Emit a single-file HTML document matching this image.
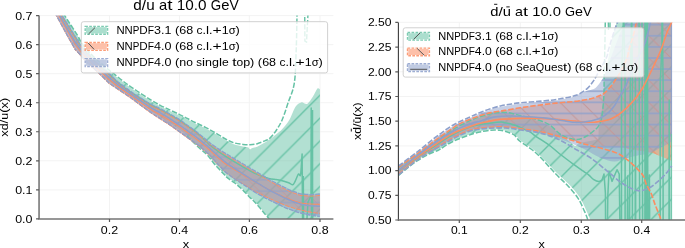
<!DOCTYPE html>
<html><head><meta charset="utf-8"><title>PDF ratio plots</title>
<style>
html,body{margin:0;padding:0;background:#fff;}
body{width:685px;height:248px;overflow:hidden;}
svg{display:block;font-family:"Liberation Sans",sans-serif;fill:#000;will-change:transform;}
</style></head><body>
<svg width="685" height="248" viewBox="0 0 685 248">
<defs>
<filter id="soft" x="0" y="0" width="100%" height="100%" filterUnits="userSpaceOnUse" primitiveUnits="userSpaceOnUse"><feGaussianBlur stdDeviation="0.3"/></filter>
<clipPath id="clipL"><rect x="39.05" y="15.60" width="296.35" height="203.30"/></clipPath>
<pattern id="hgL" patternUnits="userSpaceOnUse" x="-17.90" y="0" width="22.80" height="22.80"><path d="M-1.00 23.80 L23.80 -1.00 M-1.00 1.00 L1.00 -1.00 M21.80 23.80 L23.80 21.80" stroke="#66c2a5" stroke-width="1.35" stroke-opacity="1.00" fill="none"/></pattern>
<pattern id="hoL" patternUnits="userSpaceOnUse" x="22.60" y="0" width="22.80" height="22.80"><path d="M-1.00 -1.00 L23.80 23.80 M21.80 -1.00 L23.80 1.00 M-1.00 21.80 L1.00 23.80" stroke="#fc8d62" stroke-width="0.90" stroke-opacity="0.90" fill="none"/></pattern>
<pattern id="hbL" patternUnits="userSpaceOnUse" x="0" y="-8.30" width="40" height="11.40"><path d="M-1 5.70 L41 5.70" stroke="#8da0cb" stroke-width="1.00" stroke-opacity="0.95" fill="none"/></pattern>
<clipPath id="clipR"><rect x="398.30" y="22.40" width="287.70" height="197.60"/></clipPath>
<pattern id="hgR" patternUnits="userSpaceOnUse" x="-13.30" y="0" width="22.10" height="22.10"><path d="M-1.00 23.10 L23.10 -1.00 M-1.00 1.00 L1.00 -1.00 M21.10 23.10 L23.10 21.10" stroke="#66c2a5" stroke-width="1.35" stroke-opacity="1.00" fill="none"/></pattern>
<pattern id="hoR" patternUnits="userSpaceOnUse" x="13.60" y="0" width="22.20" height="22.20"><path d="M-1.00 -1.00 L23.20 23.20 M21.20 -1.00 L23.20 1.00 M-1.00 21.20 L1.00 23.20" stroke="#fc8d62" stroke-width="1.00" stroke-opacity="1.00" fill="none"/></pattern>
<pattern id="hbR" patternUnits="userSpaceOnUse" x="0" y="-3.10" width="40" height="11.10"><path d="M-1 5.55 L41 5.55" stroke="#8da0cb" stroke-width="1.20" stroke-opacity="1.00" fill="none"/></pattern>
</defs>
<rect x="0" y="0" width="685" height="248" fill="#fff"/>
<path d="M109.50 15.60 V218.90 M179.50 15.60 V218.90 M249.40 15.60 V218.90 M320.00 15.60 V218.90 M39.05 189.86 H333.40 M39.05 160.81 H333.40 M39.05 131.77 H333.40 M39.05 102.73 H333.40 M39.05 73.69 H333.40 M39.05 44.64 H333.40 M39.05 15.60 H333.40" stroke="#f2f2f2" stroke-width="0.9" fill="none"/>
<g clip-path="url(#clipL)"><g filter="url(#soft)">
<path d="M58.00 0.00 C59.20 2.77 62.87 12.10 65.20 16.60 C67.53 21.10 69.82 23.60 72.00 27.00 C74.18 30.40 76.42 33.83 78.30 37.00 C80.18 40.17 80.47 42.33 83.30 46.00 C86.13 49.67 91.02 54.83 95.30 59.00 C99.58 63.17 105.78 68.28 109.00 71.00 C112.22 73.72 111.97 73.22 114.60 75.30 C117.23 77.38 121.07 80.72 124.80 83.50 C128.53 86.28 132.80 89.17 137.00 92.00 C141.20 94.83 146.13 98.12 150.00 100.50 C153.87 102.88 156.80 104.52 160.20 106.30 C163.60 108.08 167.17 109.65 170.40 111.20 C173.63 112.75 176.83 114.25 179.60 115.60 C182.37 116.95 184.40 117.98 187.00 119.30 C189.60 120.62 192.13 122.00 195.20 123.50 C198.27 125.00 202.00 126.55 205.40 128.30 C208.80 130.05 212.25 132.03 215.60 134.00 C218.95 135.97 222.48 138.40 225.50 140.10 C228.52 141.80 230.80 143.15 233.70 144.20 C236.60 145.25 240.52 145.88 242.90 146.40 C245.28 146.92 246.82 146.82 248.00 147.30 C249.18 147.78 249.25 149.18 250.00 149.30 C250.75 149.42 251.30 148.43 252.50 148.00 C253.70 147.57 255.05 147.67 257.20 146.70 C259.35 145.73 263.27 143.47 265.40 142.20 C267.53 140.93 268.23 140.38 270.00 139.10 C271.77 137.82 273.95 136.18 276.00 134.50 C278.05 132.82 280.03 131.50 282.30 129.00 C284.57 126.50 287.40 123.20 289.60 119.50 C291.80 115.80 293.55 109.65 295.50 106.80 C297.45 103.95 299.35 102.88 301.30 102.40 C303.25 101.92 305.25 104.87 307.20 103.90 C309.15 102.93 311.30 99.15 313.00 96.60 C314.70 94.05 316.25 89.82 317.40 88.60 C318.55 87.38 319.48 89.18 319.90 89.30 L319.90 230.00 L272.00 230.00 L272.00 224.00 C271.53 223.00 270.35 219.77 269.20 218.00 C268.05 216.23 266.63 215.20 265.10 213.40 C263.57 211.60 261.75 209.27 260.00 207.20 C258.25 205.13 256.18 202.67 254.60 201.00 C253.02 199.33 252.53 199.23 250.50 197.20 C248.47 195.17 244.95 191.23 242.40 188.80 C239.85 186.37 237.55 184.43 235.20 182.60 C232.85 180.77 230.27 179.43 228.30 177.80 C226.33 176.17 225.62 175.13 223.40 172.80 C221.18 170.47 217.57 166.80 215.00 163.80 C212.43 160.80 210.50 157.47 208.00 154.80 C205.50 152.13 203.47 151.02 200.00 147.80 C196.53 144.58 191.77 139.30 187.20 135.50 C182.63 131.70 176.73 127.85 172.60 125.00 C168.47 122.15 165.80 120.62 162.40 118.40 C159.00 116.18 157.23 115.27 152.20 111.70 C147.17 108.13 139.12 101.87 132.20 97.00 C125.28 92.13 115.65 86.28 110.70 82.50 C105.75 78.72 106.08 77.72 102.50 74.30 C98.92 70.88 93.37 66.17 89.20 62.00 C85.03 57.83 80.72 53.63 77.50 49.30 C74.28 44.97 73.02 41.62 69.90 36.00 C66.78 30.38 62.00 21.60 58.80 15.60 C55.60 9.60 52.05 2.60 50.70 0.00 Z" fill="#66c2a5" fill-opacity="0.5"/>
<path d="M58.00 0.00 C59.20 2.77 62.87 12.10 65.20 16.60 C67.53 21.10 69.82 23.60 72.00 27.00 C74.18 30.40 76.42 33.83 78.30 37.00 C80.18 40.17 80.47 42.33 83.30 46.00 C86.13 49.67 91.02 54.83 95.30 59.00 C99.58 63.17 105.78 68.28 109.00 71.00 C112.22 73.72 111.97 73.22 114.60 75.30 C117.23 77.38 121.07 80.72 124.80 83.50 C128.53 86.28 132.80 89.17 137.00 92.00 C141.20 94.83 146.13 98.12 150.00 100.50 C153.87 102.88 156.80 104.52 160.20 106.30 C163.60 108.08 167.17 109.65 170.40 111.20 C173.63 112.75 176.83 114.25 179.60 115.60 C182.37 116.95 184.40 117.98 187.00 119.30 C189.60 120.62 192.13 122.00 195.20 123.50 C198.27 125.00 202.00 126.55 205.40 128.30 C208.80 130.05 212.25 132.03 215.60 134.00 C218.95 135.97 222.48 138.40 225.50 140.10 C228.52 141.80 230.80 143.15 233.70 144.20 C236.60 145.25 240.52 145.88 242.90 146.40 C245.28 146.92 246.82 146.82 248.00 147.30 C249.18 147.78 249.25 149.18 250.00 149.30 C250.75 149.42 251.30 148.43 252.50 148.00 C253.70 147.57 255.05 147.67 257.20 146.70 C259.35 145.73 263.27 143.47 265.40 142.20 C267.53 140.93 268.23 140.38 270.00 139.10 C271.77 137.82 273.95 136.18 276.00 134.50 C278.05 132.82 280.03 131.50 282.30 129.00 C284.57 126.50 287.40 123.20 289.60 119.50 C291.80 115.80 293.55 109.65 295.50 106.80 C297.45 103.95 299.35 102.88 301.30 102.40 C303.25 101.92 305.25 104.87 307.20 103.90 C309.15 102.93 311.30 99.15 313.00 96.60 C314.70 94.05 316.25 89.82 317.40 88.60 C318.55 87.38 319.48 89.18 319.90 89.30 L319.90 230.00 L272.00 230.00 L272.00 224.00 C271.53 223.00 270.35 219.77 269.20 218.00 C268.05 216.23 266.63 215.20 265.10 213.40 C263.57 211.60 261.75 209.27 260.00 207.20 C258.25 205.13 256.18 202.67 254.60 201.00 C253.02 199.33 252.53 199.23 250.50 197.20 C248.47 195.17 244.95 191.23 242.40 188.80 C239.85 186.37 237.55 184.43 235.20 182.60 C232.85 180.77 230.27 179.43 228.30 177.80 C226.33 176.17 225.62 175.13 223.40 172.80 C221.18 170.47 217.57 166.80 215.00 163.80 C212.43 160.80 210.50 157.47 208.00 154.80 C205.50 152.13 203.47 151.02 200.00 147.80 C196.53 144.58 191.77 139.30 187.20 135.50 C182.63 131.70 176.73 127.85 172.60 125.00 C168.47 122.15 165.80 120.62 162.40 118.40 C159.00 116.18 157.23 115.27 152.20 111.70 C147.17 108.13 139.12 101.87 132.20 97.00 C125.28 92.13 115.65 86.28 110.70 82.50 C105.75 78.72 106.08 77.72 102.50 74.30 C98.92 70.88 93.37 66.17 89.20 62.00 C85.03 57.83 80.72 53.63 77.50 49.30 C74.28 44.97 73.02 41.62 69.90 36.00 C66.78 30.38 62.00 21.60 58.80 15.60 C55.60 9.60 52.05 2.60 50.70 0.00 Z" fill="url(#hgL)"/>
<path d="M55.00 1.50 C55.27 2.07 55.38 2.32 56.60 4.92 C57.82 7.52 60.45 13.62 62.30 17.10 C64.15 20.58 65.58 22.37 67.70 25.77 C69.82 29.17 73.73 35.47 75.00 37.50 C76.27 39.53 74.30 36.39 75.30 37.97 C76.30 39.56 79.05 44.37 81.00 47.00 C82.95 49.63 85.00 51.50 87.00 53.75 C89.00 56.00 90.78 58.28 93.00 60.50 C95.22 62.72 97.72 64.74 100.30 67.07 C102.88 69.39 106.88 73.00 108.50 74.45 C110.12 75.91 108.30 74.21 110.00 75.80 C111.70 77.39 115.37 81.25 118.70 84.00 C122.03 86.75 127.62 90.55 130.00 92.30 C132.38 94.05 129.67 92.37 133.00 94.50 C136.33 96.63 145.47 102.48 150.00 105.10 C154.53 107.72 156.80 108.42 160.20 110.20 C163.60 111.98 167.17 113.98 170.40 115.80 C173.63 117.62 177.17 119.57 179.60 121.10 C182.03 122.63 182.40 123.13 185.00 125.00 C187.60 126.87 192.70 130.44 195.20 132.30 C197.70 134.16 198.30 134.79 200.00 136.16 C201.70 137.53 203.72 139.09 205.40 140.50 C207.08 141.91 209.30 143.91 210.10 144.61 C210.90 145.31 209.00 143.86 210.20 144.70 C211.40 145.54 215.60 148.46 217.30 149.64 C219.00 150.83 219.05 150.95 220.40 151.80 C221.75 152.65 223.80 153.82 225.40 154.77 C227.00 155.72 228.37 156.52 230.00 157.50 C231.63 158.48 233.50 159.63 235.20 160.66 C236.90 161.69 238.50 162.68 240.20 163.70 C241.90 164.72 243.70 165.79 245.40 166.81 C247.10 167.83 248.68 168.78 250.40 169.80 C252.12 170.82 254.00 171.92 255.70 172.92 C257.40 173.92 258.90 174.80 260.60 175.80 C262.30 176.80 264.30 178.00 265.90 178.95 C267.50 179.90 268.63 180.63 270.20 181.50 C271.77 182.37 273.60 183.27 275.30 184.15 C277.00 185.03 278.70 185.93 280.40 186.80 C282.10 187.67 283.80 188.50 285.50 189.35 C287.20 190.20 288.88 191.17 290.60 191.90 C292.32 192.63 294.08 193.12 295.80 193.72 C297.52 194.32 299.20 195.15 300.90 195.50 C302.60 195.85 304.32 195.70 306.00 195.80 C307.68 195.90 309.47 196.10 311.00 196.10 C312.53 196.10 313.72 195.92 315.20 195.82 C316.68 195.72 319.12 195.55 319.90 195.50 L319.90 213.40 C319.12 213.32 316.68 213.10 315.20 212.90 C313.72 212.70 312.53 212.47 311.00 212.22 C309.47 211.97 307.68 211.77 306.00 211.40 C304.32 211.03 302.60 210.44 300.90 210.00 C299.20 209.56 297.52 209.27 295.80 208.78 C294.08 208.30 292.32 207.65 290.60 207.09 C288.88 206.53 287.20 206.07 285.50 205.43 C283.80 204.79 282.10 203.98 280.40 203.25 C278.70 202.53 277.00 201.83 275.30 201.08 C273.60 200.32 271.77 199.46 270.20 198.75 C268.63 198.03 267.50 197.55 265.90 196.78 C264.30 196.02 262.30 195.00 260.60 194.16 C258.90 193.31 257.40 192.69 255.70 191.73 C254.00 190.77 252.12 189.48 250.40 188.41 C248.68 187.33 247.10 186.32 245.40 185.28 C243.70 184.23 241.90 183.16 240.20 182.14 C238.50 181.11 236.90 180.23 235.20 179.12 C233.50 178.01 231.63 176.62 230.00 175.47 C228.37 174.33 227.00 173.62 225.40 172.25 C223.80 170.87 221.75 168.58 220.40 167.22 C219.05 165.86 219.00 165.95 217.30 164.10 C215.60 162.25 211.40 157.46 210.20 156.11 C209.00 154.76 210.90 156.71 210.10 156.00 C209.30 155.29 207.08 153.34 205.40 151.86 C203.72 150.38 201.70 148.47 200.00 147.10 C198.30 145.73 197.70 145.43 195.20 143.61 C192.70 141.80 187.60 138.08 185.00 136.20 C182.40 134.32 182.03 134.07 179.60 132.32 C177.17 130.57 173.63 127.90 170.40 125.70 C167.17 123.50 163.60 121.32 160.20 119.10 C156.80 116.88 154.53 115.60 150.00 112.40 C145.47 109.20 136.33 102.36 133.00 99.91 C129.67 97.45 132.38 99.34 130.00 97.70 C127.62 96.06 122.03 92.33 118.70 90.08 C115.37 87.83 111.70 85.36 110.00 84.21 C108.30 83.07 110.12 84.74 108.50 83.20 C106.88 81.66 102.88 77.49 100.30 75.00 C97.72 72.51 95.22 70.30 93.00 68.25 C90.78 66.20 89.00 64.71 87.00 62.70 C85.00 60.69 82.95 58.30 81.00 56.19 C79.05 54.07 76.30 51.12 75.30 50.00 C74.30 48.88 76.27 51.69 75.00 49.48 C73.73 47.26 69.82 40.48 67.70 36.70 C65.58 32.92 64.15 30.18 62.30 26.78 C60.45 23.38 57.82 18.56 56.60 16.30 C55.38 14.04 55.27 13.73 55.00 13.22 Z" fill="#fc8d62" fill-opacity="0.5"/>
<path d="M55.00 1.50 C55.27 2.07 55.38 2.32 56.60 4.92 C57.82 7.52 60.45 13.62 62.30 17.10 C64.15 20.58 65.58 22.37 67.70 25.77 C69.82 29.17 73.73 35.47 75.00 37.50 C76.27 39.53 74.30 36.39 75.30 37.97 C76.30 39.56 79.05 44.37 81.00 47.00 C82.95 49.63 85.00 51.50 87.00 53.75 C89.00 56.00 90.78 58.28 93.00 60.50 C95.22 62.72 97.72 64.74 100.30 67.07 C102.88 69.39 106.88 73.00 108.50 74.45 C110.12 75.91 108.30 74.21 110.00 75.80 C111.70 77.39 115.37 81.25 118.70 84.00 C122.03 86.75 127.62 90.55 130.00 92.30 C132.38 94.05 129.67 92.37 133.00 94.50 C136.33 96.63 145.47 102.48 150.00 105.10 C154.53 107.72 156.80 108.42 160.20 110.20 C163.60 111.98 167.17 113.98 170.40 115.80 C173.63 117.62 177.17 119.57 179.60 121.10 C182.03 122.63 182.40 123.13 185.00 125.00 C187.60 126.87 192.70 130.44 195.20 132.30 C197.70 134.16 198.30 134.79 200.00 136.16 C201.70 137.53 203.72 139.09 205.40 140.50 C207.08 141.91 209.30 143.91 210.10 144.61 C210.90 145.31 209.00 143.86 210.20 144.70 C211.40 145.54 215.60 148.46 217.30 149.64 C219.00 150.83 219.05 150.95 220.40 151.80 C221.75 152.65 223.80 153.82 225.40 154.77 C227.00 155.72 228.37 156.52 230.00 157.50 C231.63 158.48 233.50 159.63 235.20 160.66 C236.90 161.69 238.50 162.68 240.20 163.70 C241.90 164.72 243.70 165.79 245.40 166.81 C247.10 167.83 248.68 168.78 250.40 169.80 C252.12 170.82 254.00 171.92 255.70 172.92 C257.40 173.92 258.90 174.80 260.60 175.80 C262.30 176.80 264.30 178.00 265.90 178.95 C267.50 179.90 268.63 180.63 270.20 181.50 C271.77 182.37 273.60 183.27 275.30 184.15 C277.00 185.03 278.70 185.93 280.40 186.80 C282.10 187.67 283.80 188.50 285.50 189.35 C287.20 190.20 288.88 191.17 290.60 191.90 C292.32 192.63 294.08 193.12 295.80 193.72 C297.52 194.32 299.20 195.15 300.90 195.50 C302.60 195.85 304.32 195.70 306.00 195.80 C307.68 195.90 309.47 196.10 311.00 196.10 C312.53 196.10 313.72 195.92 315.20 195.82 C316.68 195.72 319.12 195.55 319.90 195.50 L319.90 213.40 C319.12 213.32 316.68 213.10 315.20 212.90 C313.72 212.70 312.53 212.47 311.00 212.22 C309.47 211.97 307.68 211.77 306.00 211.40 C304.32 211.03 302.60 210.44 300.90 210.00 C299.20 209.56 297.52 209.27 295.80 208.78 C294.08 208.30 292.32 207.65 290.60 207.09 C288.88 206.53 287.20 206.07 285.50 205.43 C283.80 204.79 282.10 203.98 280.40 203.25 C278.70 202.53 277.00 201.83 275.30 201.08 C273.60 200.32 271.77 199.46 270.20 198.75 C268.63 198.03 267.50 197.55 265.90 196.78 C264.30 196.02 262.30 195.00 260.60 194.16 C258.90 193.31 257.40 192.69 255.70 191.73 C254.00 190.77 252.12 189.48 250.40 188.41 C248.68 187.33 247.10 186.32 245.40 185.28 C243.70 184.23 241.90 183.16 240.20 182.14 C238.50 181.11 236.90 180.23 235.20 179.12 C233.50 178.01 231.63 176.62 230.00 175.47 C228.37 174.33 227.00 173.62 225.40 172.25 C223.80 170.87 221.75 168.58 220.40 167.22 C219.05 165.86 219.00 165.95 217.30 164.10 C215.60 162.25 211.40 157.46 210.20 156.11 C209.00 154.76 210.90 156.71 210.10 156.00 C209.30 155.29 207.08 153.34 205.40 151.86 C203.72 150.38 201.70 148.47 200.00 147.10 C198.30 145.73 197.70 145.43 195.20 143.61 C192.70 141.80 187.60 138.08 185.00 136.20 C182.40 134.32 182.03 134.07 179.60 132.32 C177.17 130.57 173.63 127.90 170.40 125.70 C167.17 123.50 163.60 121.32 160.20 119.10 C156.80 116.88 154.53 115.60 150.00 112.40 C145.47 109.20 136.33 102.36 133.00 99.91 C129.67 97.45 132.38 99.34 130.00 97.70 C127.62 96.06 122.03 92.33 118.70 90.08 C115.37 87.83 111.70 85.36 110.00 84.21 C108.30 83.07 110.12 84.74 108.50 83.20 C106.88 81.66 102.88 77.49 100.30 75.00 C97.72 72.51 95.22 70.30 93.00 68.25 C90.78 66.20 89.00 64.71 87.00 62.70 C85.00 60.69 82.95 58.30 81.00 56.19 C79.05 54.07 76.30 51.12 75.30 50.00 C74.30 48.88 76.27 51.69 75.00 49.48 C73.73 47.26 69.82 40.48 67.70 36.70 C65.58 32.92 64.15 30.18 62.30 26.78 C60.45 23.38 57.82 18.56 56.60 16.30 C55.38 14.04 55.27 13.73 55.00 13.22 Z" fill="url(#hoL)"/>
<path d="M55.00 0.00 C55.27 0.57 55.38 0.82 56.60 3.42 C57.82 6.02 60.45 12.12 62.30 15.60 C64.15 19.08 65.58 20.87 67.70 24.27 C69.82 27.67 73.73 33.97 75.00 36.00 C76.27 38.03 74.30 34.89 75.30 36.47 C76.30 38.06 79.05 42.87 81.00 45.50 C82.95 48.13 85.00 50.00 87.00 52.25 C89.00 54.50 90.78 56.78 93.00 59.00 C95.22 61.22 97.72 63.24 100.30 65.57 C102.88 67.89 106.88 71.50 108.50 72.95 C110.12 74.41 108.30 72.71 110.00 74.30 C111.70 75.89 115.37 79.75 118.70 82.50 C122.03 85.25 127.62 89.05 130.00 90.80 C132.38 92.55 129.67 90.87 133.00 93.00 C136.33 95.13 145.47 100.98 150.00 103.60 C154.53 106.22 156.80 106.92 160.20 108.70 C163.60 110.48 167.17 112.48 170.40 114.30 C173.63 116.12 177.17 118.07 179.60 119.60 C182.03 121.13 182.40 121.63 185.00 123.50 C187.60 125.37 192.70 128.94 195.20 130.80 C197.70 132.66 198.30 133.29 200.00 134.66 C201.70 136.03 203.72 137.59 205.40 139.00 C207.08 140.41 209.30 142.41 210.10 143.11 C210.90 143.81 209.00 142.36 210.20 143.20 C211.40 144.04 215.60 146.96 217.30 148.14 C219.00 149.33 219.05 149.45 220.40 150.30 C221.75 151.15 223.80 152.32 225.40 153.27 C227.00 154.22 228.37 155.02 230.00 156.00 C231.63 156.98 233.50 158.13 235.20 159.16 C236.90 160.19 238.50 161.18 240.20 162.20 C241.90 163.22 243.70 164.29 245.40 165.31 C247.10 166.33 248.68 167.28 250.40 168.30 C252.12 169.32 254.00 170.42 255.70 171.42 C257.40 172.42 258.90 173.30 260.60 174.30 C262.30 175.30 264.30 176.50 265.90 177.45 C267.50 178.40 268.63 179.13 270.20 180.00 C271.77 180.87 273.60 181.77 275.30 182.65 C277.00 183.53 278.70 184.43 280.40 185.30 C282.10 186.17 283.80 187.00 285.50 187.85 C287.20 188.70 288.88 189.67 290.60 190.40 C292.32 191.13 294.08 191.62 295.80 192.22 C297.52 192.82 299.20 193.65 300.90 194.00 C302.60 194.35 304.32 194.20 306.00 194.30 C307.68 194.40 309.47 194.60 311.00 194.60 C312.53 194.60 313.72 194.42 315.20 194.32 C316.68 194.22 319.12 194.05 319.90 194.00 L319.90 216.40 C319.12 216.32 316.68 216.10 315.20 215.90 C313.72 215.70 312.53 215.47 311.00 215.22 C309.47 214.97 307.68 214.77 306.00 214.40 C304.32 214.03 302.60 213.47 300.90 213.00 C299.20 212.53 297.52 212.15 295.80 211.60 C294.08 211.05 292.32 210.31 290.60 209.68 C288.88 209.05 287.20 208.51 285.50 207.80 C283.80 207.09 282.10 206.20 280.40 205.40 C278.70 204.60 277.00 203.82 275.30 203.00 C273.60 202.18 271.77 201.23 270.20 200.45 C268.63 199.67 267.50 199.13 265.90 198.30 C264.30 197.47 262.30 196.36 260.60 195.44 C258.90 194.53 257.40 193.83 255.70 192.80 C254.00 191.77 252.12 190.40 250.40 189.25 C248.68 188.10 247.10 187.02 245.40 185.90 C243.70 184.78 241.90 183.64 240.20 182.54 C238.50 181.44 236.90 180.48 235.20 179.30 C233.50 178.12 231.63 176.64 230.00 175.43 C228.37 174.21 227.00 173.45 225.40 172.00 C223.80 170.55 221.75 168.17 220.40 166.75 C219.05 165.34 219.00 165.39 217.30 163.50 C215.60 161.61 211.40 156.78 210.20 155.41 C209.00 154.05 210.90 156.01 210.10 155.30 C209.30 154.59 207.08 152.64 205.40 151.16 C203.72 149.68 201.70 147.77 200.00 146.40 C198.30 145.03 197.70 144.73 195.20 142.91 C192.70 141.10 187.60 137.38 185.00 135.50 C182.40 133.62 182.03 133.37 179.60 131.62 C177.17 129.87 173.63 127.20 170.40 125.00 C167.17 122.80 163.60 120.62 160.20 118.40 C156.80 116.18 154.53 114.90 150.00 111.70 C145.47 108.50 136.33 101.66 133.00 99.20 C129.67 96.75 132.38 98.64 130.00 97.00 C127.62 95.36 122.03 91.63 118.70 89.38 C115.37 87.13 111.70 84.66 110.00 83.51 C108.30 82.37 110.12 84.04 108.50 82.50 C106.88 80.96 102.88 76.79 100.30 74.30 C97.72 71.81 95.22 69.60 93.00 67.55 C90.78 65.50 89.00 64.01 87.00 62.00 C85.00 59.99 82.95 57.60 81.00 55.49 C79.05 53.37 76.30 50.42 75.30 49.30 C74.30 48.18 76.27 50.99 75.00 48.78 C73.73 46.56 69.82 39.78 67.70 36.00 C65.58 32.22 64.15 29.48 62.30 26.08 C60.45 22.68 57.82 17.86 56.60 15.60 C55.38 13.34 55.27 13.03 55.00 12.52 Z" fill="#8da0cb" fill-opacity="0.5"/>
<path d="M55.00 0.00 C55.27 0.57 55.38 0.82 56.60 3.42 C57.82 6.02 60.45 12.12 62.30 15.60 C64.15 19.08 65.58 20.87 67.70 24.27 C69.82 27.67 73.73 33.97 75.00 36.00 C76.27 38.03 74.30 34.89 75.30 36.47 C76.30 38.06 79.05 42.87 81.00 45.50 C82.95 48.13 85.00 50.00 87.00 52.25 C89.00 54.50 90.78 56.78 93.00 59.00 C95.22 61.22 97.72 63.24 100.30 65.57 C102.88 67.89 106.88 71.50 108.50 72.95 C110.12 74.41 108.30 72.71 110.00 74.30 C111.70 75.89 115.37 79.75 118.70 82.50 C122.03 85.25 127.62 89.05 130.00 90.80 C132.38 92.55 129.67 90.87 133.00 93.00 C136.33 95.13 145.47 100.98 150.00 103.60 C154.53 106.22 156.80 106.92 160.20 108.70 C163.60 110.48 167.17 112.48 170.40 114.30 C173.63 116.12 177.17 118.07 179.60 119.60 C182.03 121.13 182.40 121.63 185.00 123.50 C187.60 125.37 192.70 128.94 195.20 130.80 C197.70 132.66 198.30 133.29 200.00 134.66 C201.70 136.03 203.72 137.59 205.40 139.00 C207.08 140.41 209.30 142.41 210.10 143.11 C210.90 143.81 209.00 142.36 210.20 143.20 C211.40 144.04 215.60 146.96 217.30 148.14 C219.00 149.33 219.05 149.45 220.40 150.30 C221.75 151.15 223.80 152.32 225.40 153.27 C227.00 154.22 228.37 155.02 230.00 156.00 C231.63 156.98 233.50 158.13 235.20 159.16 C236.90 160.19 238.50 161.18 240.20 162.20 C241.90 163.22 243.70 164.29 245.40 165.31 C247.10 166.33 248.68 167.28 250.40 168.30 C252.12 169.32 254.00 170.42 255.70 171.42 C257.40 172.42 258.90 173.30 260.60 174.30 C262.30 175.30 264.30 176.50 265.90 177.45 C267.50 178.40 268.63 179.13 270.20 180.00 C271.77 180.87 273.60 181.77 275.30 182.65 C277.00 183.53 278.70 184.43 280.40 185.30 C282.10 186.17 283.80 187.00 285.50 187.85 C287.20 188.70 288.88 189.67 290.60 190.40 C292.32 191.13 294.08 191.62 295.80 192.22 C297.52 192.82 299.20 193.65 300.90 194.00 C302.60 194.35 304.32 194.20 306.00 194.30 C307.68 194.40 309.47 194.60 311.00 194.60 C312.53 194.60 313.72 194.42 315.20 194.32 C316.68 194.22 319.12 194.05 319.90 194.00 L319.90 216.40 C319.12 216.32 316.68 216.10 315.20 215.90 C313.72 215.70 312.53 215.47 311.00 215.22 C309.47 214.97 307.68 214.77 306.00 214.40 C304.32 214.03 302.60 213.47 300.90 213.00 C299.20 212.53 297.52 212.15 295.80 211.60 C294.08 211.05 292.32 210.31 290.60 209.68 C288.88 209.05 287.20 208.51 285.50 207.80 C283.80 207.09 282.10 206.20 280.40 205.40 C278.70 204.60 277.00 203.82 275.30 203.00 C273.60 202.18 271.77 201.23 270.20 200.45 C268.63 199.67 267.50 199.13 265.90 198.30 C264.30 197.47 262.30 196.36 260.60 195.44 C258.90 194.53 257.40 193.83 255.70 192.80 C254.00 191.77 252.12 190.40 250.40 189.25 C248.68 188.10 247.10 187.02 245.40 185.90 C243.70 184.78 241.90 183.64 240.20 182.54 C238.50 181.44 236.90 180.48 235.20 179.30 C233.50 178.12 231.63 176.64 230.00 175.43 C228.37 174.21 227.00 173.45 225.40 172.00 C223.80 170.55 221.75 168.17 220.40 166.75 C219.05 165.34 219.00 165.39 217.30 163.50 C215.60 161.61 211.40 156.78 210.20 155.41 C209.00 154.05 210.90 156.01 210.10 155.30 C209.30 154.59 207.08 152.64 205.40 151.16 C203.72 149.68 201.70 147.77 200.00 146.40 C198.30 145.03 197.70 144.73 195.20 142.91 C192.70 141.10 187.60 137.38 185.00 135.50 C182.40 133.62 182.03 133.37 179.60 131.62 C177.17 129.87 173.63 127.20 170.40 125.00 C167.17 122.80 163.60 120.62 160.20 118.40 C156.80 116.18 154.53 114.90 150.00 111.70 C145.47 108.50 136.33 101.66 133.00 99.20 C129.67 96.75 132.38 98.64 130.00 97.00 C127.62 95.36 122.03 91.63 118.70 89.38 C115.37 87.13 111.70 84.66 110.00 83.51 C108.30 82.37 110.12 84.04 108.50 82.50 C106.88 80.96 102.88 76.79 100.30 74.30 C97.72 71.81 95.22 69.60 93.00 67.55 C90.78 65.50 89.00 64.01 87.00 62.00 C85.00 59.99 82.95 57.60 81.00 55.49 C79.05 53.37 76.30 50.42 75.30 49.30 C74.30 48.18 76.27 50.99 75.00 48.78 C73.73 46.56 69.82 39.78 67.70 36.00 C65.58 32.22 64.15 29.48 62.30 26.08 C60.45 22.68 57.82 17.86 56.60 15.60 C55.38 13.34 55.27 13.03 55.00 12.52 Z" fill="url(#hbL)"/>
<path d="M55.00 0.90 C56.22 3.50 58.97 10.50 62.30 16.50 C65.63 22.50 71.88 31.92 75.00 36.90 C78.12 41.88 78.00 42.57 81.00 46.40 C84.00 50.23 88.17 55.10 93.00 59.90 C97.83 64.70 105.72 71.28 110.00 75.20 C114.28 79.12 114.87 80.28 118.70 83.40 C122.53 86.52 127.78 90.38 133.00 93.90 C138.22 97.42 145.47 101.88 150.00 104.50 C154.53 107.12 156.80 107.82 160.20 109.60 C163.60 111.38 167.17 113.38 170.40 115.20 C173.63 117.02 177.17 118.97 179.60 120.50 C182.03 122.03 182.40 122.53 185.00 124.40 C187.60 126.27 191.80 129.02 195.20 131.71 C198.60 134.41 202.90 138.34 205.40 140.56 C207.90 142.79 207.70 143.02 210.20 145.07 C212.70 147.11 217.10 150.48 220.40 152.82 C223.70 155.16 226.70 157.04 230.00 159.10 C233.30 161.16 236.80 163.22 240.20 165.20 C243.60 167.18 247.10 169.28 250.40 171.00 C253.70 172.72 256.93 174.25 260.00 175.50 C263.07 176.75 266.13 177.83 268.80 178.50 C271.47 179.17 274.07 179.22 276.00 179.50 C277.93 179.78 278.30 179.67 280.40 180.20 C282.50 180.73 286.55 181.93 288.60 182.70 C290.65 183.47 291.60 185.05 292.70 184.80 C293.80 184.55 294.35 182.82 295.20 181.20 C296.05 179.58 297.20 176.30 297.80 175.10 C298.40 173.90 298.38 173.92 298.80 174.00 C299.22 174.08 299.95 175.93 300.30 175.60 C300.65 175.27 300.80 172.60 300.90 172.00 L302.1 154 L302.6 225 M303.6 225 L303.3 176 M306.6 225 L308 202 L311 196 L311.2 108 L311.6 196 L311.4 225 M312.6 225 L312.5 110" fill="none" stroke="#66c2a5" stroke-width="1.5" stroke-linejoin="round"/>
<path d="M57.50 0.00 C58.72 2.60 62.47 11.27 64.80 15.60 C67.13 19.93 69.32 22.60 71.50 26.00 C73.68 29.40 75.98 32.83 77.90 36.00 C79.82 39.17 80.15 41.33 83.00 45.00 C85.85 48.67 90.67 53.83 95.00 58.00 C99.33 62.17 105.73 67.28 109.00 70.00 C112.27 72.72 111.97 72.22 114.60 74.30 C117.23 76.38 121.07 79.72 124.80 82.50 C128.53 85.28 132.80 88.17 137.00 91.00 C141.20 93.83 146.13 97.12 150.00 99.50 C153.87 101.88 156.80 103.52 160.20 105.30 C163.60 107.08 167.17 108.65 170.40 110.20 C173.63 111.75 176.83 113.25 179.60 114.60 C182.37 115.95 184.40 116.98 187.00 118.30 C189.60 119.62 192.13 121.00 195.20 122.50 C198.27 124.00 202.00 125.55 205.40 127.30 C208.80 129.05 212.25 131.05 215.60 133.00 C218.95 134.95 222.48 137.38 225.50 139.00 C228.52 140.62 230.80 141.80 233.70 142.70 C236.60 143.60 240.18 144.07 242.90 144.40 C245.62 144.73 247.62 144.82 250.00 144.70 C252.38 144.58 254.63 144.38 257.20 143.70 C259.77 143.02 263.27 141.53 265.40 140.60 C267.53 139.67 268.15 139.87 270.00 138.10 C271.85 136.33 274.45 133.10 276.50 130.00 C278.55 126.90 280.38 124.00 282.30 119.50 C284.22 115.00 286.00 109.05 288.00 103.00 C290.00 96.95 292.93 92.03 294.30 83.20 C295.67 74.37 295.75 61.27 296.20 50.00 C296.65 38.73 296.82 23.93 297.00 15.60 C297.18 7.27 297.25 2.60 297.30 0.00" fill="none" stroke="#66c2a5" stroke-width="1.5" stroke-dasharray="5.3 1.8"/>
<path d="M186.80 135.90 C188.93 137.95 196.13 144.98 199.60 148.20 C203.07 151.42 205.10 152.53 207.60 155.20 C210.10 157.87 212.03 161.20 214.60 164.20 C217.17 167.20 220.78 170.87 223.00 173.20 C225.22 175.53 225.93 176.57 227.90 178.20 C229.87 179.83 232.45 181.17 234.80 183.00 C237.15 184.83 239.45 186.77 242.00 189.20 C244.55 191.63 248.07 195.57 250.10 197.60 C252.13 199.63 252.62 199.73 254.20 201.40 C255.78 203.07 257.85 205.53 259.60 207.60 C261.35 209.67 263.17 212.00 264.70 213.80 C266.23 215.60 267.65 216.63 268.80 218.40 C269.95 220.17 271.13 223.40 271.60 224.40" fill="none" stroke="#66c2a5" stroke-width="1.5" stroke-dasharray="5.3 1.8"/>
<path d="M304.7 10 L304.9 41 L306.5 42 L308.2 10" fill="none" stroke="#66c2a5" stroke-width="1.4" stroke-dasharray="5.3 1.8"/>
<path d="M55.00 7.56 C55.27 8.10 55.38 8.38 56.60 10.81 C57.82 13.24 60.45 18.70 62.30 22.14 C64.15 25.58 65.58 27.85 67.70 31.44 C69.82 35.03 73.73 41.56 75.00 43.69 C76.27 45.81 74.30 42.84 75.30 44.19 C76.30 45.54 79.05 49.42 81.00 51.79 C82.95 54.17 85.00 56.29 87.00 58.42 C89.00 60.56 90.78 62.44 93.00 64.57 C95.22 66.71 97.72 68.83 100.30 71.23 C102.88 73.64 106.88 77.53 108.50 79.02 C110.12 80.52 108.30 78.84 110.00 80.21 C111.70 81.57 115.37 84.74 118.70 87.24 C122.03 89.74 127.62 93.50 130.00 95.20 C132.38 96.89 129.67 95.11 133.00 97.40 C136.33 99.69 145.47 106.04 150.00 108.95 C154.53 111.86 156.80 112.85 160.20 114.85 C163.60 116.85 167.17 118.94 170.40 120.95 C173.63 122.96 177.17 125.27 179.60 126.91 C182.03 128.55 182.40 128.93 185.00 130.80 C187.60 132.67 192.70 136.32 195.20 138.16 C197.70 139.99 198.30 140.46 200.00 141.83 C201.70 143.20 203.72 144.93 205.40 146.38 C207.08 147.83 209.30 149.80 210.10 150.51 C210.90 151.21 209.00 149.51 210.20 150.61 C211.40 151.70 215.60 155.55 217.30 157.07 C219.00 158.59 219.05 158.60 220.40 159.71 C221.75 160.81 223.80 162.54 225.40 163.71 C227.00 164.87 228.37 165.62 230.00 166.68 C231.63 167.75 233.50 169.02 235.20 170.09 C236.90 171.16 238.50 172.09 240.20 173.12 C241.90 174.14 243.70 175.21 245.40 176.24 C247.10 177.27 248.68 178.25 250.40 179.30 C252.12 180.35 254.00 181.54 255.70 182.52 C257.40 183.50 258.90 184.25 260.60 185.17 C262.30 186.10 264.30 187.20 265.90 188.06 C267.50 188.92 268.63 189.52 270.20 190.32 C271.77 191.11 273.60 191.99 275.30 192.80 C277.00 193.62 278.70 194.42 280.40 195.22 C282.10 196.01 283.80 196.84 285.50 197.58 C287.20 198.33 288.88 199.04 290.60 199.68 C292.32 200.33 294.08 200.90 295.80 201.44 C297.52 201.98 299.20 202.55 300.90 202.92 C302.60 203.29 304.32 203.46 306.00 203.66 C307.68 203.86 309.47 204.01 311.00 204.10 C312.53 204.20 313.72 204.20 315.20 204.21 C316.68 204.23 319.12 204.20 319.90 204.20" fill="none" stroke="#fc8d62" stroke-width="1.05"/>
<path d="M55.00 1.50 C55.27 2.07 55.38 2.32 56.60 4.92 C57.82 7.52 60.45 13.62 62.30 17.10 C64.15 20.58 65.58 22.37 67.70 25.77 C69.82 29.17 73.73 35.47 75.00 37.50 C76.27 39.53 74.30 36.39 75.30 37.97 C76.30 39.56 79.05 44.37 81.00 47.00 C82.95 49.63 85.00 51.50 87.00 53.75 C89.00 56.00 90.78 58.28 93.00 60.50 C95.22 62.72 97.72 64.74 100.30 67.07 C102.88 69.39 106.88 73.00 108.50 74.45 C110.12 75.91 108.30 74.21 110.00 75.80 C111.70 77.39 115.37 81.25 118.70 84.00 C122.03 86.75 127.62 90.55 130.00 92.30 C132.38 94.05 129.67 92.37 133.00 94.50 C136.33 96.63 145.47 102.48 150.00 105.10 C154.53 107.72 156.80 108.42 160.20 110.20 C163.60 111.98 167.17 113.98 170.40 115.80 C173.63 117.62 177.17 119.57 179.60 121.10 C182.03 122.63 182.40 123.13 185.00 125.00 C187.60 126.87 192.70 130.44 195.20 132.30 C197.70 134.16 198.30 134.79 200.00 136.16 C201.70 137.53 203.72 139.09 205.40 140.50 C207.08 141.91 209.30 143.91 210.10 144.61 C210.90 145.31 209.00 143.86 210.20 144.70 C211.40 145.54 215.60 148.46 217.30 149.64 C219.00 150.83 219.05 150.95 220.40 151.80 C221.75 152.65 223.80 153.82 225.40 154.77 C227.00 155.72 228.37 156.52 230.00 157.50 C231.63 158.48 233.50 159.63 235.20 160.66 C236.90 161.69 238.50 162.68 240.20 163.70 C241.90 164.72 243.70 165.79 245.40 166.81 C247.10 167.83 248.68 168.78 250.40 169.80 C252.12 170.82 254.00 171.92 255.70 172.92 C257.40 173.92 258.90 174.80 260.60 175.80 C262.30 176.80 264.30 178.00 265.90 178.95 C267.50 179.90 268.63 180.63 270.20 181.50 C271.77 182.37 273.60 183.27 275.30 184.15 C277.00 185.03 278.70 185.93 280.40 186.80 C282.10 187.67 283.80 188.50 285.50 189.35 C287.20 190.20 288.88 191.17 290.60 191.90 C292.32 192.63 294.08 193.12 295.80 193.72 C297.52 194.32 299.20 195.15 300.90 195.50 C302.60 195.85 304.32 195.70 306.00 195.80 C307.68 195.90 309.47 196.10 311.00 196.10 C312.53 196.10 313.72 195.92 315.20 195.82 C316.68 195.72 319.12 195.55 319.90 195.50" fill="none" stroke="#fc8d62" stroke-width="1.0" stroke-dasharray="4.8 1.0"/>
<path d="M55.00 13.22 C55.27 13.73 55.38 14.04 56.60 16.30 C57.82 18.56 60.45 23.38 62.30 26.78 C64.15 30.18 65.58 32.92 67.70 36.70 C69.82 40.48 73.73 47.26 75.00 49.48 C76.27 51.69 74.30 48.88 75.30 50.00 C76.30 51.12 79.05 54.07 81.00 56.19 C82.95 58.30 85.00 60.69 87.00 62.70 C89.00 64.71 90.78 66.20 93.00 68.25 C95.22 70.30 97.72 72.51 100.30 75.00 C102.88 77.49 106.88 81.66 108.50 83.20 C110.12 84.74 108.30 83.07 110.00 84.21 C111.70 85.36 115.37 87.83 118.70 90.08 C122.03 92.33 127.62 96.06 130.00 97.70 C132.38 99.34 129.67 97.45 133.00 99.91 C136.33 102.36 145.47 109.20 150.00 112.40 C154.53 115.60 156.80 116.88 160.20 119.10 C163.60 121.32 167.17 123.50 170.40 125.70 C173.63 127.90 177.17 130.57 179.60 132.32 C182.03 134.07 182.40 134.32 185.00 136.20 C187.60 138.08 192.70 141.80 195.20 143.61 C197.70 145.43 198.30 145.73 200.00 147.10 C201.70 148.47 203.72 150.38 205.40 151.86 C207.08 153.34 209.30 155.29 210.10 156.00 C210.90 156.71 209.00 154.76 210.20 156.11 C211.40 157.46 215.60 162.25 217.30 164.10 C219.00 165.95 219.05 165.86 220.40 167.22 C221.75 168.58 223.80 170.87 225.40 172.25 C227.00 173.62 228.37 174.33 230.00 175.47 C231.63 176.62 233.50 178.01 235.20 179.12 C236.90 180.23 238.50 181.11 240.20 182.14 C241.90 183.16 243.70 184.23 245.40 185.28 C247.10 186.32 248.68 187.33 250.40 188.41 C252.12 189.48 254.00 190.77 255.70 191.73 C257.40 192.69 258.90 193.31 260.60 194.16 C262.30 195.00 264.30 196.02 265.90 196.78 C267.50 197.55 268.63 198.03 270.20 198.75 C271.77 199.46 273.60 200.32 275.30 201.08 C277.00 201.83 278.70 202.53 280.40 203.25 C282.10 203.98 283.80 204.79 285.50 205.43 C287.20 206.07 288.88 206.53 290.60 207.09 C292.32 207.65 294.08 208.30 295.80 208.78 C297.52 209.27 299.20 209.56 300.90 210.00 C302.60 210.44 304.32 211.03 306.00 211.40 C307.68 211.77 309.47 211.97 311.00 212.22 C312.53 212.47 313.72 212.70 315.20 212.90 C316.68 213.10 319.12 213.32 319.90 213.40" fill="none" stroke="#fc8d62" stroke-width="1.0" stroke-dasharray="4.8 1.0"/>
<path d="M55.00 5.66 C55.27 6.20 55.38 6.48 56.60 8.91 C57.82 11.34 60.45 16.80 62.30 20.24 C64.15 23.68 65.58 25.95 67.70 29.54 C69.82 33.13 73.73 39.66 75.00 41.79 C76.27 43.91 74.30 40.94 75.30 42.29 C76.30 43.64 79.05 47.52 81.00 49.89 C82.95 52.27 85.00 54.39 87.00 56.52 C89.00 58.66 90.78 60.54 93.00 62.67 C95.22 64.81 97.72 66.93 100.30 69.34 C102.88 71.74 106.88 75.63 108.50 77.12 C110.12 78.62 108.30 76.94 110.00 78.31 C111.70 79.67 115.37 82.84 118.70 85.34 C122.03 87.84 127.62 91.60 130.00 93.30 C132.38 94.99 129.67 93.21 133.00 95.50 C136.33 97.79 145.47 104.14 150.00 107.05 C154.53 109.96 156.80 110.95 160.20 112.95 C163.60 114.95 167.17 117.04 170.40 119.05 C173.63 121.06 177.17 123.37 179.60 125.01 C182.03 126.65 182.40 127.03 185.00 128.90 C187.60 130.77 192.70 134.42 195.20 136.26 C197.70 138.09 198.30 138.56 200.00 139.93 C201.70 141.30 203.72 143.03 205.40 144.48 C207.08 145.93 209.30 147.90 210.10 148.61 C210.90 149.31 209.00 147.60 210.20 148.71 C211.40 149.82 215.60 153.71 217.30 155.26 C219.00 156.81 219.05 156.85 220.40 158.01 C221.75 159.16 223.80 160.97 225.40 162.19 C227.00 163.42 228.37 164.22 230.00 165.34 C231.63 166.47 233.50 167.80 235.20 168.94 C236.90 170.07 238.50 171.06 240.20 172.15 C241.90 173.24 243.70 174.37 245.40 175.47 C247.10 176.56 248.68 177.60 250.40 178.71 C252.12 179.82 254.00 181.09 255.70 182.13 C257.40 183.17 258.90 183.98 260.60 184.97 C262.30 185.95 264.30 187.13 265.90 188.05 C267.50 188.97 268.63 189.62 270.20 190.47 C271.77 191.32 273.60 192.26 275.30 193.14 C277.00 194.02 278.70 194.89 280.40 195.75 C282.10 196.61 283.80 197.49 285.50 198.30 C287.20 199.11 288.88 199.89 290.60 200.59 C292.32 201.30 294.08 201.94 295.80 202.54 C297.52 203.14 299.20 203.78 300.90 204.21 C302.60 204.64 304.32 204.88 306.00 205.14 C307.68 205.40 309.47 205.62 311.00 205.77 C312.53 205.92 313.72 205.96 315.20 206.04 C316.68 206.11 319.12 206.17 319.90 206.20" fill="none" stroke="#8da0cb" stroke-width="1.5"/>
<path d="M55.00 0.00 C55.27 0.57 55.38 0.82 56.60 3.42 C57.82 6.02 60.45 12.12 62.30 15.60 C64.15 19.08 65.58 20.87 67.70 24.27 C69.82 27.67 73.73 33.97 75.00 36.00 C76.27 38.03 74.30 34.89 75.30 36.47 C76.30 38.06 79.05 42.87 81.00 45.50 C82.95 48.13 85.00 50.00 87.00 52.25 C89.00 54.50 90.78 56.78 93.00 59.00 C95.22 61.22 97.72 63.24 100.30 65.57 C102.88 67.89 106.88 71.50 108.50 72.95 C110.12 74.41 108.30 72.71 110.00 74.30 C111.70 75.89 115.37 79.75 118.70 82.50 C122.03 85.25 127.62 89.05 130.00 90.80 C132.38 92.55 129.67 90.87 133.00 93.00 C136.33 95.13 145.47 100.98 150.00 103.60 C154.53 106.22 156.80 106.92 160.20 108.70 C163.60 110.48 167.17 112.48 170.40 114.30 C173.63 116.12 177.17 118.07 179.60 119.60 C182.03 121.13 182.40 121.63 185.00 123.50 C187.60 125.37 192.70 128.94 195.20 130.80 C197.70 132.66 198.30 133.29 200.00 134.66 C201.70 136.03 203.72 137.59 205.40 139.00 C207.08 140.41 209.30 142.41 210.10 143.11 C210.90 143.81 209.00 142.36 210.20 143.20 C211.40 144.04 215.60 146.96 217.30 148.14 C219.00 149.33 219.05 149.45 220.40 150.30 C221.75 151.15 223.80 152.32 225.40 153.27 C227.00 154.22 228.37 155.02 230.00 156.00 C231.63 156.98 233.50 158.13 235.20 159.16 C236.90 160.19 238.50 161.18 240.20 162.20 C241.90 163.22 243.70 164.29 245.40 165.31 C247.10 166.33 248.68 167.28 250.40 168.30 C252.12 169.32 254.00 170.42 255.70 171.42 C257.40 172.42 258.90 173.30 260.60 174.30 C262.30 175.30 264.30 176.50 265.90 177.45 C267.50 178.40 268.63 179.13 270.20 180.00 C271.77 180.87 273.60 181.77 275.30 182.65 C277.00 183.53 278.70 184.43 280.40 185.30 C282.10 186.17 283.80 187.00 285.50 187.85 C287.20 188.70 288.88 189.67 290.60 190.40 C292.32 191.13 294.08 191.62 295.80 192.22 C297.52 192.82 299.20 193.65 300.90 194.00 C302.60 194.35 304.32 194.20 306.00 194.30 C307.68 194.40 309.47 194.60 311.00 194.60 C312.53 194.60 313.72 194.42 315.20 194.32 C316.68 194.22 319.12 194.05 319.90 194.00" fill="none" stroke="#8da0cb" stroke-width="1.3" stroke-dasharray="4.8 1.0"/>
<path d="M55.00 12.52 C55.27 13.03 55.38 13.34 56.60 15.60 C57.82 17.86 60.45 22.68 62.30 26.08 C64.15 29.48 65.58 32.22 67.70 36.00 C69.82 39.78 73.73 46.56 75.00 48.78 C76.27 50.99 74.30 48.18 75.30 49.30 C76.30 50.42 79.05 53.37 81.00 55.49 C82.95 57.60 85.00 59.99 87.00 62.00 C89.00 64.01 90.78 65.50 93.00 67.55 C95.22 69.60 97.72 71.81 100.30 74.30 C102.88 76.79 106.88 80.96 108.50 82.50 C110.12 84.04 108.30 82.37 110.00 83.51 C111.70 84.66 115.37 87.13 118.70 89.38 C122.03 91.63 127.62 95.36 130.00 97.00 C132.38 98.64 129.67 96.75 133.00 99.20 C136.33 101.66 145.47 108.50 150.00 111.70 C154.53 114.90 156.80 116.18 160.20 118.40 C163.60 120.62 167.17 122.80 170.40 125.00 C173.63 127.20 177.17 129.87 179.60 131.62 C182.03 133.37 182.40 133.62 185.00 135.50 C187.60 137.38 192.70 141.10 195.20 142.91 C197.70 144.73 198.30 145.03 200.00 146.40 C201.70 147.77 203.72 149.68 205.40 151.16 C207.08 152.64 209.30 154.59 210.10 155.30 C210.90 156.01 209.00 154.05 210.20 155.41 C211.40 156.78 215.60 161.61 217.30 163.50 C219.00 165.39 219.05 165.34 220.40 166.75 C221.75 168.17 223.80 170.55 225.40 172.00 C227.00 173.45 228.37 174.21 230.00 175.43 C231.63 176.64 233.50 178.12 235.20 179.30 C236.90 180.48 238.50 181.44 240.20 182.54 C241.90 183.64 243.70 184.78 245.40 185.90 C247.10 187.02 248.68 188.10 250.40 189.25 C252.12 190.40 254.00 191.77 255.70 192.80 C257.40 193.83 258.90 194.53 260.60 195.44 C262.30 196.36 264.30 197.47 265.90 198.30 C267.50 199.13 268.63 199.67 270.20 200.45 C271.77 201.23 273.60 202.18 275.30 203.00 C277.00 203.82 278.70 204.60 280.40 205.40 C282.10 206.20 283.80 207.09 285.50 207.80 C287.20 208.51 288.88 209.05 290.60 209.68 C292.32 210.31 294.08 211.05 295.80 211.60 C297.52 212.15 299.20 212.53 300.90 213.00 C302.60 213.47 304.32 214.03 306.00 214.40 C307.68 214.77 309.47 214.97 311.00 215.22 C312.53 215.47 313.72 215.70 315.20 215.90 C316.68 216.10 319.12 216.32 319.90 216.40" fill="none" stroke="#8da0cb" stroke-width="1.3" stroke-dasharray="4.8 1.0"/>
</g></g>
<path d="M39.05 15.60 V218.90 H333.40" stroke="#757575" stroke-width="1.55" fill="none" stroke-linejoin="miter"/>
<path d="M39.05 218.90 H36.05 M39.05 189.86 H36.05 M39.05 160.81 H36.05 M39.05 131.77 H36.05 M39.05 102.73 H36.05 M39.05 73.69 H36.05 M39.05 44.64 H36.05 M39.05 15.60 H36.05 M109.50 218.90 V221.90 M179.50 218.90 V221.90 M249.40 218.90 V221.90 M320.00 218.90 V221.90" stroke="#5a5a5a" stroke-width="1.2" fill="none"/>
<text y="222.80" font-size="11.55"><tspan x="15.20" textLength="6.92" lengthAdjust="spacingAndGlyphs">0</tspan><tspan x="22.12" textLength="3.46" lengthAdjust="spacingAndGlyphs">.</tspan><tspan x="25.58" textLength="6.92" lengthAdjust="spacingAndGlyphs">0</tspan></text>
<text y="193.76" font-size="11.55"><tspan x="15.20" textLength="6.92" lengthAdjust="spacingAndGlyphs">0</tspan><tspan x="22.12" textLength="3.46" lengthAdjust="spacingAndGlyphs">.</tspan><tspan x="25.58" textLength="6.92" lengthAdjust="spacingAndGlyphs">1</tspan></text>
<text y="164.71" font-size="11.55"><tspan x="15.20" textLength="6.92" lengthAdjust="spacingAndGlyphs">0</tspan><tspan x="22.12" textLength="3.46" lengthAdjust="spacingAndGlyphs">.</tspan><tspan x="25.58" textLength="6.92" lengthAdjust="spacingAndGlyphs">2</tspan></text>
<text y="135.67" font-size="11.55"><tspan x="15.20" textLength="6.92" lengthAdjust="spacingAndGlyphs">0</tspan><tspan x="22.12" textLength="3.46" lengthAdjust="spacingAndGlyphs">.</tspan><tspan x="25.58" textLength="6.92" lengthAdjust="spacingAndGlyphs">3</tspan></text>
<text y="106.63" font-size="11.55"><tspan x="15.20" textLength="6.92" lengthAdjust="spacingAndGlyphs">0</tspan><tspan x="22.12" textLength="3.46" lengthAdjust="spacingAndGlyphs">.</tspan><tspan x="25.58" textLength="6.92" lengthAdjust="spacingAndGlyphs">4</tspan></text>
<text y="77.59" font-size="11.55"><tspan x="15.20" textLength="6.92" lengthAdjust="spacingAndGlyphs">0</tspan><tspan x="22.12" textLength="3.46" lengthAdjust="spacingAndGlyphs">.</tspan><tspan x="25.58" textLength="6.92" lengthAdjust="spacingAndGlyphs">5</tspan></text>
<text y="48.54" font-size="11.55"><tspan x="15.20" textLength="6.92" lengthAdjust="spacingAndGlyphs">0</tspan><tspan x="22.12" textLength="3.46" lengthAdjust="spacingAndGlyphs">.</tspan><tspan x="25.58" textLength="6.92" lengthAdjust="spacingAndGlyphs">6</tspan></text>
<text y="19.50" font-size="11.55"><tspan x="15.20" textLength="6.92" lengthAdjust="spacingAndGlyphs">0</tspan><tspan x="22.12" textLength="3.46" lengthAdjust="spacingAndGlyphs">.</tspan><tspan x="25.58" textLength="6.92" lengthAdjust="spacingAndGlyphs">7</tspan></text>
<text y="233.90" font-size="11.55"><tspan x="100.85" textLength="6.92" lengthAdjust="spacingAndGlyphs">0</tspan><tspan x="107.77" textLength="3.46" lengthAdjust="spacingAndGlyphs">.</tspan><tspan x="111.23" textLength="6.92" lengthAdjust="spacingAndGlyphs">2</tspan></text>
<text y="233.90" font-size="11.55"><tspan x="170.85" textLength="6.92" lengthAdjust="spacingAndGlyphs">0</tspan><tspan x="177.77" textLength="3.46" lengthAdjust="spacingAndGlyphs">.</tspan><tspan x="181.23" textLength="6.92" lengthAdjust="spacingAndGlyphs">4</tspan></text>
<text y="233.90" font-size="11.55"><tspan x="240.75" textLength="6.92" lengthAdjust="spacingAndGlyphs">0</tspan><tspan x="247.67" textLength="3.46" lengthAdjust="spacingAndGlyphs">.</tspan><tspan x="251.13" textLength="6.92" lengthAdjust="spacingAndGlyphs">6</tspan></text>
<text y="233.90" font-size="11.55"><tspan x="311.35" textLength="6.92" lengthAdjust="spacingAndGlyphs">0</tspan><tspan x="318.27" textLength="3.46" lengthAdjust="spacingAndGlyphs">.</tspan><tspan x="321.73" textLength="6.92" lengthAdjust="spacingAndGlyphs">8</tspan></text>
<text y="247.60" font-size="11.55"><tspan x="182.80" textLength="6.45" lengthAdjust="spacingAndGlyphs">x</tspan></text>
<g transform="translate(8.2 117.3) rotate(-90)"><text y="0.00" font-size="11.55"><tspan x="-19.45" textLength="6.45" lengthAdjust="spacingAndGlyphs">x</tspan><tspan x="-13.00" textLength="6.92" lengthAdjust="spacingAndGlyphs">d</tspan><tspan x="-6.08" textLength="3.67" lengthAdjust="spacingAndGlyphs">/</tspan><tspan x="-2.41" textLength="6.91" lengthAdjust="spacingAndGlyphs">u</tspan><tspan x="4.50" textLength="4.25" lengthAdjust="spacingAndGlyphs">(</tspan><tspan x="8.75" textLength="6.45" lengthAdjust="spacingAndGlyphs">x</tspan><tspan x="15.20" textLength="4.25" lengthAdjust="spacingAndGlyphs">)</tspan></text></g>
<text y="9.70" font-size="13.90"><tspan x="133.30" textLength="8.50" lengthAdjust="spacingAndGlyphs">d</tspan><tspan x="141.80" textLength="4.51" lengthAdjust="spacingAndGlyphs">/</tspan><tspan x="146.31" textLength="8.49" lengthAdjust="spacingAndGlyphs">u</tspan><tspan x="154.80"> </tspan><tspan x="159.05" textLength="8.20" lengthAdjust="spacingAndGlyphs">a</tspan><tspan x="167.26" textLength="5.25" lengthAdjust="spacingAndGlyphs">t</tspan><tspan x="172.51"> </tspan><tspan x="176.76" textLength="8.52" lengthAdjust="spacingAndGlyphs">1</tspan><tspan x="185.28" textLength="8.52" lengthAdjust="spacingAndGlyphs">0</tspan><tspan x="193.80" textLength="4.26" lengthAdjust="spacingAndGlyphs">.</tspan><tspan x="198.05" textLength="8.52" lengthAdjust="spacingAndGlyphs">0</tspan><tspan x="206.57"> </tspan><tspan x="210.83" textLength="10.38" lengthAdjust="spacingAndGlyphs">G</tspan><tspan x="221.20" textLength="8.24" lengthAdjust="spacingAndGlyphs">e</tspan><tspan x="229.44" textLength="9.16" lengthAdjust="spacingAndGlyphs">V</tspan></text>
<rect x="81.3" y="21.7" width="246.3" height="51.2" rx="2.2" fill="#fff" fill-opacity="0.8" stroke="#ccc" stroke-width="0.9"/>
<rect x="86.0" y="27.15" width="20.8" height="6.3" fill="#66c2a5" fill-opacity="0.55"/>
<rect x="85.2" y="26.35" width="22.4" height="7.9" fill="none" stroke="#66c2a5" stroke-width="1.4" stroke-opacity="0.85" stroke-dasharray="2.7 1.3"/>
<text y="33.70" font-size="11.55"><tspan x="116.40" textLength="8.18" lengthAdjust="spacingAndGlyphs">N</tspan><tspan x="124.58" textLength="8.18" lengthAdjust="spacingAndGlyphs">N</tspan><tspan x="132.76" textLength="6.59" lengthAdjust="spacingAndGlyphs">P</tspan><tspan x="139.35" textLength="8.42" lengthAdjust="spacingAndGlyphs">D</tspan><tspan x="147.77" textLength="6.29" lengthAdjust="spacingAndGlyphs">F</tspan><tspan x="154.06" textLength="6.96" lengthAdjust="spacingAndGlyphs">3</tspan><tspan x="161.02" textLength="3.48" lengthAdjust="spacingAndGlyphs">.</tspan><tspan x="164.49" textLength="6.96" lengthAdjust="spacingAndGlyphs">1</tspan><tspan x="171.45"> </tspan><tspan x="174.93" textLength="4.27" lengthAdjust="spacingAndGlyphs">(</tspan><tspan x="179.19" textLength="6.96" lengthAdjust="spacingAndGlyphs">6</tspan><tspan x="186.15" textLength="6.96" lengthAdjust="spacingAndGlyphs">8</tspan><tspan x="193.11"> </tspan><tspan x="196.58" textLength="6.01" lengthAdjust="spacingAndGlyphs">c</tspan><tspan x="202.60" textLength="3.48" lengthAdjust="spacingAndGlyphs">.</tspan><tspan x="206.07" textLength="3.04" lengthAdjust="spacingAndGlyphs">l</tspan><tspan x="209.11" textLength="3.48" lengthAdjust="spacingAndGlyphs">.</tspan><tspan x="212.58" textLength="9.16" lengthAdjust="spacingAndGlyphs">+</tspan><tspan x="221.75" textLength="6.96" lengthAdjust="spacingAndGlyphs">1</tspan><tspan x="228.70" textLength="6.93" lengthAdjust="spacingAndGlyphs">σ</tspan><tspan x="235.63" textLength="4.27" lengthAdjust="spacingAndGlyphs">)</tspan></text>
<rect x="86.0" y="43.25" width="20.8" height="6.3" fill="#fc8d62" fill-opacity="0.55"/>
<rect x="85.2" y="42.45" width="22.4" height="7.9" fill="none" stroke="#fc8d62" stroke-width="1.4" stroke-opacity="0.85" stroke-dasharray="2.7 1.3"/>
<text y="49.80" font-size="11.55"><tspan x="116.40" textLength="8.18" lengthAdjust="spacingAndGlyphs">N</tspan><tspan x="124.58" textLength="8.18" lengthAdjust="spacingAndGlyphs">N</tspan><tspan x="132.76" textLength="6.59" lengthAdjust="spacingAndGlyphs">P</tspan><tspan x="139.35" textLength="8.42" lengthAdjust="spacingAndGlyphs">D</tspan><tspan x="147.77" textLength="6.29" lengthAdjust="spacingAndGlyphs">F</tspan><tspan x="154.06" textLength="6.96" lengthAdjust="spacingAndGlyphs">4</tspan><tspan x="161.02" textLength="3.48" lengthAdjust="spacingAndGlyphs">.</tspan><tspan x="164.49" textLength="6.96" lengthAdjust="spacingAndGlyphs">0</tspan><tspan x="171.45"> </tspan><tspan x="174.93" textLength="4.27" lengthAdjust="spacingAndGlyphs">(</tspan><tspan x="179.19" textLength="6.96" lengthAdjust="spacingAndGlyphs">6</tspan><tspan x="186.15" textLength="6.96" lengthAdjust="spacingAndGlyphs">8</tspan><tspan x="193.11"> </tspan><tspan x="196.58" textLength="6.01" lengthAdjust="spacingAndGlyphs">c</tspan><tspan x="202.60" textLength="3.48" lengthAdjust="spacingAndGlyphs">.</tspan><tspan x="206.07" textLength="3.04" lengthAdjust="spacingAndGlyphs">l</tspan><tspan x="209.11" textLength="3.48" lengthAdjust="spacingAndGlyphs">.</tspan><tspan x="212.58" textLength="9.16" lengthAdjust="spacingAndGlyphs">+</tspan><tspan x="221.75" textLength="6.96" lengthAdjust="spacingAndGlyphs">1</tspan><tspan x="228.70" textLength="6.93" lengthAdjust="spacingAndGlyphs">σ</tspan><tspan x="235.63" textLength="4.27" lengthAdjust="spacingAndGlyphs">)</tspan></text>
<rect x="86.0" y="59.45" width="20.8" height="6.3" fill="#8da0cb" fill-opacity="0.55"/>
<rect x="85.2" y="58.65" width="22.4" height="7.9" fill="none" stroke="#8da0cb" stroke-width="1.4" stroke-opacity="0.85" stroke-dasharray="2.7 1.3"/>
<text y="66.00" font-size="11.55"><tspan x="116.40" textLength="8.18" lengthAdjust="spacingAndGlyphs">N</tspan><tspan x="124.58" textLength="8.18" lengthAdjust="spacingAndGlyphs">N</tspan><tspan x="132.77" textLength="6.60" lengthAdjust="spacingAndGlyphs">P</tspan><tspan x="139.37" textLength="8.43" lengthAdjust="spacingAndGlyphs">D</tspan><tspan x="147.79" textLength="6.29" lengthAdjust="spacingAndGlyphs">F</tspan><tspan x="154.09" textLength="6.96" lengthAdjust="spacingAndGlyphs">4</tspan><tspan x="161.05" textLength="3.48" lengthAdjust="spacingAndGlyphs">.</tspan><tspan x="164.53" textLength="6.96" lengthAdjust="spacingAndGlyphs">0</tspan><tspan x="171.49"> </tspan><tspan x="174.96" textLength="4.27" lengthAdjust="spacingAndGlyphs">(</tspan><tspan x="179.23" textLength="6.93" lengthAdjust="spacingAndGlyphs">n</tspan><tspan x="186.17" textLength="6.69" lengthAdjust="spacingAndGlyphs">o</tspan><tspan x="192.86"> </tspan><tspan x="196.34" textLength="5.70" lengthAdjust="spacingAndGlyphs">s</tspan><tspan x="202.04" textLength="3.04" lengthAdjust="spacingAndGlyphs">i</tspan><tspan x="205.08" textLength="6.93" lengthAdjust="spacingAndGlyphs">n</tspan><tspan x="212.02" textLength="6.95" lengthAdjust="spacingAndGlyphs">g</tspan><tspan x="218.96" textLength="3.04" lengthAdjust="spacingAndGlyphs">l</tspan><tspan x="222.00" textLength="6.73" lengthAdjust="spacingAndGlyphs">e</tspan><tspan x="228.73"> </tspan><tspan x="232.21" textLength="4.29" lengthAdjust="spacingAndGlyphs">t</tspan><tspan x="236.50" textLength="6.69" lengthAdjust="spacingAndGlyphs">o</tspan><tspan x="243.19" textLength="6.95" lengthAdjust="spacingAndGlyphs">p</tspan><tspan x="250.14" textLength="4.27" lengthAdjust="spacingAndGlyphs">)</tspan><tspan x="254.41"> </tspan><tspan x="257.89" textLength="4.27" lengthAdjust="spacingAndGlyphs">(</tspan><tspan x="262.16" textLength="6.96" lengthAdjust="spacingAndGlyphs">6</tspan><tspan x="269.12" textLength="6.96" lengthAdjust="spacingAndGlyphs">8</tspan><tspan x="276.08"> </tspan><tspan x="279.56" textLength="6.02" lengthAdjust="spacingAndGlyphs">c</tspan><tspan x="285.57" textLength="3.48" lengthAdjust="spacingAndGlyphs">.</tspan><tspan x="289.05" textLength="3.04" lengthAdjust="spacingAndGlyphs">l</tspan><tspan x="292.09" textLength="3.48" lengthAdjust="spacingAndGlyphs">.</tspan><tspan x="295.57" textLength="9.17" lengthAdjust="spacingAndGlyphs">+</tspan><tspan x="304.74" textLength="6.96" lengthAdjust="spacingAndGlyphs">1</tspan><tspan x="311.70" textLength="6.93" lengthAdjust="spacingAndGlyphs">σ</tspan><tspan x="318.63" textLength="4.27" lengthAdjust="spacingAndGlyphs">)</tspan></text>
<path d="M88.5 34.0 L95.0 27.6" stroke="#555" stroke-width="1"/>
<path d="M88.1 42.9 L94.2 49.5" stroke="#555" stroke-width="1"/>
<path d="M459.30 22.40 V220.00 M520.30 22.40 V220.00 M581.30 22.40 V220.00 M641.70 22.40 V220.00 M398.30 195.30 H686.00 M398.30 170.60 H686.00 M398.30 145.90 H686.00 M398.30 121.20 H686.00 M398.30 96.50 H686.00 M398.30 71.80 H686.00 M398.30 47.10 H686.00 M398.30 22.40 H686.00" stroke="#f2f2f2" stroke-width="0.9" fill="none"/>
<g clip-path="url(#clipR)"><g filter="url(#soft)">
<path d="M398.50 168.00 C401.58 165.87 410.75 159.60 417.00 155.20 C423.25 150.80 430.02 145.75 436.00 141.60 C441.98 137.45 446.58 133.93 452.90 130.30 C459.22 126.67 467.72 122.38 473.90 119.80 C480.08 117.22 485.82 115.88 490.00 114.80 C494.18 113.72 495.67 113.43 499.00 113.30 C502.33 113.17 506.33 113.42 510.00 114.00 C513.67 114.58 517.17 115.87 521.00 116.80 C524.83 117.73 529.52 118.65 533.00 119.60 C536.48 120.55 539.07 121.33 541.90 122.50 C544.73 123.67 546.98 124.60 550.00 126.60 C553.02 128.60 556.83 132.10 560.00 134.50 C563.17 136.90 566.50 139.08 569.00 141.00 C571.50 142.92 573.27 145.67 575.00 146.00 C576.73 146.33 576.90 143.83 579.40 143.00 C581.90 142.17 586.87 141.57 590.00 141.00 C593.13 140.43 596.83 139.83 598.20 139.60 L598.40 139.60 C598.47 137.17 598.62 128.10 598.80 125.00 C598.98 121.90 599.22 122.50 599.50 121.00 C599.78 119.50 599.98 118.50 600.50 116.00 C601.02 113.50 602.02 109.33 602.60 106.00 C603.18 102.67 603.70 100.33 604.00 96.00 C604.30 91.67 603.73 86.00 604.40 80.00 C605.07 74.00 606.57 67.50 608.00 60.00 C609.43 52.50 611.58 41.27 613.00 35.00 C614.42 28.73 615.67 26.23 616.50 22.40 C617.33 18.57 617.75 13.73 618.00 12.00 L671.70 12 L671.70 230 L592.00 230 L592.00 226.00 C591.68 224.87 591.10 221.92 590.10 219.20 C589.10 216.48 587.73 213.37 586.00 209.70 C584.27 206.03 582.50 201.38 579.70 197.20 C576.90 193.02 573.05 188.67 569.20 184.60 C565.35 180.53 561.53 177.73 556.60 172.80 C551.67 167.87 543.97 159.25 539.60 155.00 C535.23 150.75 533.63 149.77 530.40 147.30 C527.17 144.83 522.73 142.35 520.20 140.20 C517.67 138.05 516.90 135.73 515.20 134.40 C513.50 133.07 511.70 132.83 510.00 132.20 C508.30 131.57 506.67 131.03 505.00 130.60 C503.33 130.17 502.40 129.77 500.00 129.60 C497.60 129.43 494.95 129.03 490.60 129.60 C486.25 130.17 480.18 131.10 473.90 133.00 C467.62 134.90 458.48 138.42 452.90 141.00 C447.32 143.58 442.90 147.00 440.40 148.50 C437.90 150.00 439.50 149.30 437.90 150.00 C436.30 150.70 432.85 151.82 430.80 152.70 C428.75 153.58 427.32 154.37 425.60 155.30 C423.88 156.23 422.20 157.27 420.50 158.30 C418.80 159.33 417.10 160.33 415.40 161.50 C413.70 162.67 412.00 164.00 410.30 165.30 C408.60 166.60 407.17 167.72 405.20 169.30 C403.23 170.88 399.62 173.88 398.50 174.80 Z" fill="#66c2a5" fill-opacity="0.5"/>
<path d="M398.50 168.00 C401.58 165.87 410.75 159.60 417.00 155.20 C423.25 150.80 430.02 145.75 436.00 141.60 C441.98 137.45 446.58 133.93 452.90 130.30 C459.22 126.67 467.72 122.38 473.90 119.80 C480.08 117.22 485.82 115.88 490.00 114.80 C494.18 113.72 495.67 113.43 499.00 113.30 C502.33 113.17 506.33 113.42 510.00 114.00 C513.67 114.58 517.17 115.87 521.00 116.80 C524.83 117.73 529.52 118.65 533.00 119.60 C536.48 120.55 539.07 121.33 541.90 122.50 C544.73 123.67 546.98 124.60 550.00 126.60 C553.02 128.60 556.83 132.10 560.00 134.50 C563.17 136.90 566.50 139.08 569.00 141.00 C571.50 142.92 573.27 145.67 575.00 146.00 C576.73 146.33 576.90 143.83 579.40 143.00 C581.90 142.17 586.87 141.57 590.00 141.00 C593.13 140.43 596.83 139.83 598.20 139.60 L598.40 139.60 C598.47 137.17 598.62 128.10 598.80 125.00 C598.98 121.90 599.22 122.50 599.50 121.00 C599.78 119.50 599.98 118.50 600.50 116.00 C601.02 113.50 602.02 109.33 602.60 106.00 C603.18 102.67 603.70 100.33 604.00 96.00 C604.30 91.67 603.73 86.00 604.40 80.00 C605.07 74.00 606.57 67.50 608.00 60.00 C609.43 52.50 611.58 41.27 613.00 35.00 C614.42 28.73 615.67 26.23 616.50 22.40 C617.33 18.57 617.75 13.73 618.00 12.00 L671.70 12 L671.70 230 L592.00 230 L592.00 226.00 C591.68 224.87 591.10 221.92 590.10 219.20 C589.10 216.48 587.73 213.37 586.00 209.70 C584.27 206.03 582.50 201.38 579.70 197.20 C576.90 193.02 573.05 188.67 569.20 184.60 C565.35 180.53 561.53 177.73 556.60 172.80 C551.67 167.87 543.97 159.25 539.60 155.00 C535.23 150.75 533.63 149.77 530.40 147.30 C527.17 144.83 522.73 142.35 520.20 140.20 C517.67 138.05 516.90 135.73 515.20 134.40 C513.50 133.07 511.70 132.83 510.00 132.20 C508.30 131.57 506.67 131.03 505.00 130.60 C503.33 130.17 502.40 129.77 500.00 129.60 C497.60 129.43 494.95 129.03 490.60 129.60 C486.25 130.17 480.18 131.10 473.90 133.00 C467.62 134.90 458.48 138.42 452.90 141.00 C447.32 143.58 442.90 147.00 440.40 148.50 C437.90 150.00 439.50 149.30 437.90 150.00 C436.30 150.70 432.85 151.82 430.80 152.70 C428.75 153.58 427.32 154.37 425.60 155.30 C423.88 156.23 422.20 157.27 420.50 158.30 C418.80 159.33 417.10 160.33 415.40 161.50 C413.70 162.67 412.00 164.00 410.30 165.30 C408.60 166.60 407.17 167.72 405.20 169.30 C403.23 170.88 399.62 173.88 398.50 174.80 Z" fill="url(#hgR)"/>
<path d="M398.50 167.00 C401.63 164.80 411.05 158.33 417.30 153.80 C423.55 149.27 430.07 144.10 436.00 139.80 C441.93 135.50 448.83 130.73 452.90 128.00 C456.97 125.27 457.45 124.90 460.40 123.40 C463.35 121.90 467.18 120.35 470.60 119.00 C474.02 117.65 477.48 116.37 480.90 115.30 C484.32 114.23 487.08 113.42 491.10 112.60 C495.12 111.78 500.13 111.20 505.00 110.40 C509.87 109.60 515.20 108.60 520.30 107.80 C525.40 107.00 530.48 106.28 535.60 105.60 C540.72 104.92 545.88 104.27 551.00 103.70 C556.12 103.13 562.30 102.58 566.30 102.20 C570.30 101.82 572.05 101.77 575.00 101.40 C577.95 101.03 581.08 100.52 584.00 100.00 C586.92 99.48 589.83 99.05 592.50 98.30 C595.17 97.55 597.97 96.40 600.00 95.50 C602.03 94.60 602.88 94.43 604.70 92.90 C606.52 91.37 609.18 88.37 610.90 86.30 C612.62 84.23 613.98 81.95 615.00 80.50 C616.02 79.05 615.92 79.35 617.00 77.60 C618.08 75.85 619.78 73.38 621.50 70.00 C623.22 66.62 626.08 60.63 627.30 57.30 C628.52 53.97 627.82 53.57 628.80 50.00 C629.78 46.43 631.98 40.43 633.20 35.90 C634.42 31.37 635.30 26.78 636.10 22.80 C636.90 18.82 637.68 13.80 638.00 12.00 L671.70 12 L671.70 161.00 C669.75 160.17 663.50 157.42 660.00 156.00 C656.50 154.58 654.15 153.37 650.70 152.50 C647.25 151.63 644.62 151.73 639.30 150.80 C633.98 149.87 626.10 147.80 618.80 146.90 C611.50 146.00 601.97 146.13 595.50 145.40 C589.03 144.67 585.43 143.85 580.00 142.50 C574.57 141.15 569.57 139.17 562.90 137.30 C556.23 135.43 546.98 132.75 540.00 131.30 C533.02 129.85 526.78 129.37 521.00 128.60 C515.22 127.83 510.47 126.98 505.30 126.70 C500.13 126.42 494.58 126.63 490.00 126.90 C485.42 127.17 480.95 127.85 477.80 128.30 C474.65 128.75 474.18 128.58 471.10 129.60 C468.02 130.62 462.70 132.83 459.30 134.40 C455.90 135.97 453.85 137.22 450.70 139.00 C447.55 140.78 443.53 143.32 440.40 145.10 C437.27 146.88 434.37 148.33 431.90 149.70 C429.43 151.07 427.50 152.13 425.60 153.30 C423.70 154.47 422.20 155.53 420.50 156.70 C418.80 157.87 417.10 159.03 415.40 160.30 C413.70 161.57 412.00 162.93 410.30 164.30 C408.60 165.67 407.17 166.88 405.20 168.50 C403.23 170.12 399.62 173.08 398.50 174.00 Z" fill="#fc8d62" fill-opacity="0.5"/>
<path d="M398.50 167.00 C401.63 164.80 411.05 158.33 417.30 153.80 C423.55 149.27 430.07 144.10 436.00 139.80 C441.93 135.50 448.83 130.73 452.90 128.00 C456.97 125.27 457.45 124.90 460.40 123.40 C463.35 121.90 467.18 120.35 470.60 119.00 C474.02 117.65 477.48 116.37 480.90 115.30 C484.32 114.23 487.08 113.42 491.10 112.60 C495.12 111.78 500.13 111.20 505.00 110.40 C509.87 109.60 515.20 108.60 520.30 107.80 C525.40 107.00 530.48 106.28 535.60 105.60 C540.72 104.92 545.88 104.27 551.00 103.70 C556.12 103.13 562.30 102.58 566.30 102.20 C570.30 101.82 572.05 101.77 575.00 101.40 C577.95 101.03 581.08 100.52 584.00 100.00 C586.92 99.48 589.83 99.05 592.50 98.30 C595.17 97.55 597.97 96.40 600.00 95.50 C602.03 94.60 602.88 94.43 604.70 92.90 C606.52 91.37 609.18 88.37 610.90 86.30 C612.62 84.23 613.98 81.95 615.00 80.50 C616.02 79.05 615.92 79.35 617.00 77.60 C618.08 75.85 619.78 73.38 621.50 70.00 C623.22 66.62 626.08 60.63 627.30 57.30 C628.52 53.97 627.82 53.57 628.80 50.00 C629.78 46.43 631.98 40.43 633.20 35.90 C634.42 31.37 635.30 26.78 636.10 22.80 C636.90 18.82 637.68 13.80 638.00 12.00 L671.70 12 L671.70 161.00 C669.75 160.17 663.50 157.42 660.00 156.00 C656.50 154.58 654.15 153.37 650.70 152.50 C647.25 151.63 644.62 151.73 639.30 150.80 C633.98 149.87 626.10 147.80 618.80 146.90 C611.50 146.00 601.97 146.13 595.50 145.40 C589.03 144.67 585.43 143.85 580.00 142.50 C574.57 141.15 569.57 139.17 562.90 137.30 C556.23 135.43 546.98 132.75 540.00 131.30 C533.02 129.85 526.78 129.37 521.00 128.60 C515.22 127.83 510.47 126.98 505.30 126.70 C500.13 126.42 494.58 126.63 490.00 126.90 C485.42 127.17 480.95 127.85 477.80 128.30 C474.65 128.75 474.18 128.58 471.10 129.60 C468.02 130.62 462.70 132.83 459.30 134.40 C455.90 135.97 453.85 137.22 450.70 139.00 C447.55 140.78 443.53 143.32 440.40 145.10 C437.27 146.88 434.37 148.33 431.90 149.70 C429.43 151.07 427.50 152.13 425.60 153.30 C423.70 154.47 422.20 155.53 420.50 156.70 C418.80 157.87 417.10 159.03 415.40 160.30 C413.70 161.57 412.00 162.93 410.30 164.30 C408.60 165.67 407.17 166.88 405.20 168.50 C403.23 170.12 399.62 173.08 398.50 174.00 Z" fill="url(#hoR)"/>
<path d="M398.50 166.50 C401.63 164.18 411.05 157.35 417.30 152.60 C423.55 147.85 430.07 142.40 436.00 138.00 C441.93 133.60 447.13 129.58 452.90 126.20 C458.67 122.82 465.93 119.87 470.60 117.70 C475.27 115.53 477.48 114.55 480.90 113.20 C484.32 111.85 487.70 110.68 491.10 109.60 C494.50 108.52 498.15 107.43 501.30 106.70 C504.45 105.97 506.83 105.68 510.00 105.20 C513.17 104.72 516.03 104.23 520.30 103.80 C524.57 103.37 530.48 103.03 535.60 102.60 C540.72 102.17 546.73 101.70 551.00 101.20 C555.27 100.70 558.03 100.17 561.20 99.60 C564.37 99.03 567.70 98.40 570.00 97.80 C572.30 97.20 572.45 97.03 575.00 96.00 C577.55 94.97 582.47 92.67 585.30 91.60 C588.13 90.53 590.30 90.20 592.00 89.60 C593.70 89.00 594.23 89.07 595.50 88.00 C596.77 86.93 598.40 84.77 599.60 83.20 C600.80 81.63 601.47 81.13 602.70 78.60 C603.93 76.07 605.28 72.43 607.00 68.00 C608.72 63.57 611.00 57.33 613.00 52.00 C615.00 46.67 617.17 40.93 619.00 36.00 C620.83 31.07 622.67 26.40 624.00 22.40 C625.33 18.40 626.50 13.73 627.00 12.00 L671.70 12 L671.70 141.50 C671.25 141.78 670.95 142.12 669.00 143.20 C667.05 144.28 663.30 146.30 660.00 148.00 C656.70 149.70 652.53 152.23 649.20 153.40 C645.87 154.57 643.88 154.23 640.00 155.00 C636.12 155.77 630.20 156.90 625.90 158.00 C621.60 159.10 618.52 161.68 614.20 161.60 C609.88 161.52 605.03 159.60 600.00 157.50 C594.97 155.40 589.17 151.50 584.00 149.00 C578.83 146.50 574.33 144.57 569.00 142.50 C563.67 140.43 556.83 138.23 552.00 136.60 C547.17 134.97 545.17 133.85 540.00 132.70 C534.83 131.55 526.78 130.53 521.00 129.70 C515.22 128.87 510.47 128.00 505.30 127.70 C500.13 127.40 494.58 127.65 490.00 127.90 C485.42 128.15 480.95 128.77 477.80 129.20 C474.65 129.63 474.18 129.48 471.10 130.50 C468.02 131.52 462.70 133.73 459.30 135.30 C455.90 136.87 453.85 138.12 450.70 139.90 C447.55 141.68 443.53 144.23 440.40 146.00 C437.27 147.77 434.37 149.17 431.90 150.50 C429.43 151.83 427.50 152.87 425.60 154.00 C423.70 155.13 422.20 156.13 420.50 157.30 C418.80 158.47 417.10 159.72 415.40 161.00 C413.70 162.28 412.00 163.65 410.30 165.00 C408.60 166.35 407.17 167.48 405.20 169.10 C403.23 170.72 399.62 173.77 398.50 174.70 Z" fill="#8da0cb" fill-opacity="0.5"/>
<path d="M398.50 166.50 C401.63 164.18 411.05 157.35 417.30 152.60 C423.55 147.85 430.07 142.40 436.00 138.00 C441.93 133.60 447.13 129.58 452.90 126.20 C458.67 122.82 465.93 119.87 470.60 117.70 C475.27 115.53 477.48 114.55 480.90 113.20 C484.32 111.85 487.70 110.68 491.10 109.60 C494.50 108.52 498.15 107.43 501.30 106.70 C504.45 105.97 506.83 105.68 510.00 105.20 C513.17 104.72 516.03 104.23 520.30 103.80 C524.57 103.37 530.48 103.03 535.60 102.60 C540.72 102.17 546.73 101.70 551.00 101.20 C555.27 100.70 558.03 100.17 561.20 99.60 C564.37 99.03 567.70 98.40 570.00 97.80 C572.30 97.20 572.45 97.03 575.00 96.00 C577.55 94.97 582.47 92.67 585.30 91.60 C588.13 90.53 590.30 90.20 592.00 89.60 C593.70 89.00 594.23 89.07 595.50 88.00 C596.77 86.93 598.40 84.77 599.60 83.20 C600.80 81.63 601.47 81.13 602.70 78.60 C603.93 76.07 605.28 72.43 607.00 68.00 C608.72 63.57 611.00 57.33 613.00 52.00 C615.00 46.67 617.17 40.93 619.00 36.00 C620.83 31.07 622.67 26.40 624.00 22.40 C625.33 18.40 626.50 13.73 627.00 12.00 L671.70 12 L671.70 141.50 C671.25 141.78 670.95 142.12 669.00 143.20 C667.05 144.28 663.30 146.30 660.00 148.00 C656.70 149.70 652.53 152.23 649.20 153.40 C645.87 154.57 643.88 154.23 640.00 155.00 C636.12 155.77 630.20 156.90 625.90 158.00 C621.60 159.10 618.52 161.68 614.20 161.60 C609.88 161.52 605.03 159.60 600.00 157.50 C594.97 155.40 589.17 151.50 584.00 149.00 C578.83 146.50 574.33 144.57 569.00 142.50 C563.67 140.43 556.83 138.23 552.00 136.60 C547.17 134.97 545.17 133.85 540.00 132.70 C534.83 131.55 526.78 130.53 521.00 129.70 C515.22 128.87 510.47 128.00 505.30 127.70 C500.13 127.40 494.58 127.65 490.00 127.90 C485.42 128.15 480.95 128.77 477.80 129.20 C474.65 129.63 474.18 129.48 471.10 130.50 C468.02 131.52 462.70 133.73 459.30 135.30 C455.90 136.87 453.85 138.12 450.70 139.90 C447.55 141.68 443.53 144.23 440.40 146.00 C437.27 147.77 434.37 149.17 431.90 150.50 C429.43 151.83 427.50 152.87 425.60 154.00 C423.70 155.13 422.20 156.13 420.50 157.30 C418.80 158.47 417.10 159.72 415.40 161.00 C413.70 162.28 412.00 163.65 410.30 165.00 C408.60 166.35 407.17 167.48 405.20 169.10 C403.23 170.72 399.62 173.77 398.50 174.70 Z" fill="url(#hbR)"/>
<path d="M398.50 167.50 C401.58 165.33 410.75 158.95 417.00 154.50 C423.25 150.05 430.02 144.97 436.00 140.80 C441.98 136.63 446.58 133.13 452.90 129.50 C459.22 125.87 467.72 121.58 473.90 119.00 C480.08 116.42 485.82 115.10 490.00 114.00 C494.18 112.90 495.67 112.57 499.00 112.40 C502.33 112.23 506.33 112.43 510.00 113.00 C513.67 113.57 517.17 114.88 521.00 115.80 C524.83 116.72 529.52 117.58 533.00 118.50 C536.48 119.42 539.07 120.18 541.90 121.30 C544.73 122.42 546.67 122.88 550.00 125.20 C553.33 127.52 557.48 132.80 561.90 135.20 C566.32 137.60 572.37 139.47 576.50 139.60 C580.63 139.73 583.53 137.70 586.70 136.00 C589.87 134.30 593.53 131.07 595.50 129.40 C597.47 127.73 597.47 127.90 598.50 126.00 C599.53 124.10 600.82 122.83 601.70 118.00 C602.58 113.17 603.38 104.00 603.80 97.00 C604.22 90.00 604.03 83.83 604.20 76.00 C604.37 68.17 604.62 59.00 604.80 50.00 C604.98 41.00 605.18 28.33 605.30 22.00 C605.42 15.67 605.47 13.67 605.50 12.00" fill="none" stroke="#66c2a5" stroke-width="1.5" stroke-dasharray="5.5 1.9"/>
<path d="M398.50 175.30 C399.62 174.38 403.23 171.38 405.20 169.80 C407.17 168.22 408.60 167.10 410.30 165.80 C412.00 164.50 413.70 163.17 415.40 162.00 C417.10 160.83 418.80 159.83 420.50 158.80 C422.20 157.77 423.88 156.73 425.60 155.80 C427.32 154.87 428.75 154.08 430.80 153.20 C432.85 152.32 436.30 151.20 437.90 150.50 C439.50 149.80 437.90 150.50 440.40 149.00 C442.90 147.50 447.32 144.08 452.90 141.50 C458.48 138.92 467.62 135.38 473.90 133.50 C480.18 131.62 486.25 130.73 490.60 130.20 C494.95 129.67 497.60 130.12 500.00 130.30 C502.40 130.48 503.33 130.85 505.00 131.30 C506.67 131.75 508.40 132.35 510.00 133.00 C511.60 133.65 513.00 133.87 514.60 135.20 C516.20 136.53 517.07 138.85 519.60 141.00 C522.13 143.15 526.57 145.63 529.80 148.10 C533.03 150.57 534.70 151.52 539.00 155.80 C543.30 160.08 550.80 168.80 555.60 173.80 C560.40 178.80 564.05 181.70 567.80 185.80 C571.55 189.90 575.35 194.22 578.10 198.40 C580.85 202.58 582.70 207.40 584.30 210.90 C585.90 214.40 586.88 216.88 587.70 219.40 C588.52 221.92 588.95 224.90 589.20 226.00" fill="none" stroke="#66c2a5" stroke-width="1.5" stroke-dasharray="5.5 1.9"/>
<path d="M398.50 171.00 C401.58 168.83 410.75 162.33 417.00 158.00 C423.25 153.67 430.02 148.92 436.00 145.00 C441.98 141.08 446.58 137.70 452.90 134.50 C459.22 131.30 467.53 127.72 473.90 125.80 C480.27 123.88 486.53 123.63 491.10 123.00 C495.67 122.37 498.98 122.05 501.30 122.00 C503.62 121.95 502.68 122.15 505.00 122.70 C507.32 123.25 512.13 124.27 515.20 125.30 C518.27 126.33 520.87 127.75 523.40 128.90 C525.93 130.05 528.37 130.98 530.40 132.20 C532.43 133.42 533.90 135.00 535.60 136.20 C537.30 137.40 538.05 137.68 540.60 139.40 C543.15 141.12 547.48 143.90 550.90 146.50 C554.32 149.10 557.25 151.98 561.10 155.00 C564.95 158.02 570.20 161.83 574.00 164.60 C577.80 167.37 581.47 169.90 583.90 171.60 C586.33 173.30 586.95 173.47 588.60 174.80 C590.25 176.13 592.10 178.47 593.80 179.60 C595.50 180.73 597.43 181.53 598.80 181.60 C600.17 181.67 601.47 180.27 602.00 180.00 L604 174 L605.4 193 L605.6 230 M607.4 230 L607.8 196 L609 171 L612 181.4 L617 169.7 L619.2 174 L620 230 M621.5 230 V80 L623.7 10 L625.1 80 V230 M627.3 230 L627.6 176 L628 230 M629.5 230 L630.3 80 L631.7 10 L632.4 80 V230 M635.2 230 L635.4 62 L635.7 230 M639.7 230 L639 10 M642.7 230 L642 10 M644.9 230 L645 10 M646.4 10 V230 M647.8 230 L647.5 10 M649.2 230 L649.4 175 L649.7 230 M660.2 230 V84 L662 45 V10 M663.1 230 V84 L662.6 45 V10 M669 230 L669.2 100 L669.5 230" fill="none" stroke="#66c2a5" stroke-width="1.5" stroke-linejoin="round"/>
<path d="M608 10 L608.5 30 M610 10 L610 28" fill="none" stroke="#66c2a5" stroke-width="1.4"/>
<path d="M671.50 20 V134" fill="none" stroke="#8da0cb" stroke-width="1.2" stroke-opacity="0.85"/>
<path d="M671.50 134 V222" fill="none" stroke="#66c2a5" stroke-width="1.2" stroke-opacity="0.85"/>
<path d="M398.50 170.80 C401.58 168.50 410.75 161.47 417.00 157.00 C423.25 152.53 430.02 147.92 436.00 144.00 C441.98 140.08 446.27 136.73 452.90 133.50 C459.53 130.27 470.28 126.52 475.80 124.60 C481.32 122.68 482.60 122.78 486.00 122.00 C489.40 121.22 493.03 120.38 496.20 119.90 C499.37 119.42 500.13 119.40 505.00 119.10 C509.87 118.80 518.58 118.18 525.40 118.10 C532.22 118.02 539.08 118.25 545.90 118.60 C552.72 118.95 561.45 119.80 566.30 120.20 C571.15 120.60 572.07 120.70 575.00 121.00 C577.93 121.30 580.68 121.80 583.90 122.00 C587.12 122.20 591.35 122.33 594.30 122.20 C597.25 122.07 598.85 121.73 601.60 121.20 C604.35 120.67 607.92 120.13 610.80 119.00 C613.68 117.87 616.35 116.18 618.90 114.40 C621.45 112.62 623.88 110.35 626.10 108.30 C628.32 106.25 630.33 104.15 632.20 102.10 C634.07 100.05 635.47 98.52 637.30 96.00 C639.13 93.48 640.72 91.50 643.20 87.00 C645.68 82.50 649.25 75.17 652.20 69.00 C655.15 62.83 658.47 56.00 660.90 50.00 C663.33 44.00 665.05 37.53 666.80 33.00 C668.55 28.47 670.03 26.30 671.40 22.80 C672.77 19.30 674.40 13.80 675.00 12.00" fill="none" stroke="#fc8d62" stroke-width="1.6"/>
<path d="M398.50 167.00 C401.63 164.80 411.05 158.33 417.30 153.80 C423.55 149.27 430.07 144.10 436.00 139.80 C441.93 135.50 448.83 130.73 452.90 128.00 C456.97 125.27 457.45 124.90 460.40 123.40 C463.35 121.90 467.18 120.35 470.60 119.00 C474.02 117.65 477.48 116.37 480.90 115.30 C484.32 114.23 487.08 113.42 491.10 112.60 C495.12 111.78 500.13 111.20 505.00 110.40 C509.87 109.60 515.20 108.60 520.30 107.80 C525.40 107.00 530.48 106.28 535.60 105.60 C540.72 104.92 545.88 104.27 551.00 103.70 C556.12 103.13 562.30 102.58 566.30 102.20 C570.30 101.82 572.05 101.77 575.00 101.40 C577.95 101.03 581.08 100.52 584.00 100.00 C586.92 99.48 589.83 99.05 592.50 98.30 C595.17 97.55 597.97 96.40 600.00 95.50 C602.03 94.60 602.88 94.43 604.70 92.90 C606.52 91.37 609.18 88.37 610.90 86.30 C612.62 84.23 613.98 81.95 615.00 80.50 C616.02 79.05 615.92 79.35 617.00 77.60 C618.08 75.85 619.78 73.38 621.50 70.00 C623.22 66.62 626.08 60.63 627.30 57.30 C628.52 53.97 627.82 53.57 628.80 50.00 C629.78 46.43 631.98 40.43 633.20 35.90 C634.42 31.37 635.30 26.78 636.10 22.80 C636.90 18.82 637.68 13.80 638.00 12.00" fill="none" stroke="#fc8d62" stroke-width="1.6" stroke-dasharray="5.5 1.9"/>
<path d="M398.50 174.30 C399.62 173.38 403.23 170.42 405.20 168.80 C407.17 167.18 408.60 165.97 410.30 164.60 C412.00 163.23 413.70 161.87 415.40 160.60 C417.10 159.33 418.80 158.17 420.50 157.00 C422.20 155.83 423.70 154.77 425.60 153.60 C427.50 152.43 429.43 151.37 431.90 150.00 C434.37 148.63 437.27 147.18 440.40 145.40 C443.53 143.62 447.55 141.08 450.70 139.30 C453.85 137.52 455.90 136.27 459.30 134.70 C462.70 133.13 468.02 130.92 471.10 129.90 C474.18 128.88 474.65 129.05 477.80 128.60 C480.95 128.15 485.42 127.47 490.00 127.20 C494.58 126.93 500.13 126.72 505.30 127.00 C510.47 127.28 515.22 128.13 521.00 128.90 C526.78 129.67 533.02 130.15 540.00 131.60 C546.98 133.05 555.58 135.55 562.90 137.60 C570.22 139.65 576.92 141.97 583.90 143.90 C590.88 145.83 599.22 147.63 604.80 149.20 C610.38 150.77 613.90 151.73 617.40 153.30 C620.90 154.87 623.00 156.50 625.80 158.60 C628.60 160.70 631.33 163.10 634.20 165.90 C637.07 168.70 640.98 172.33 643.00 175.40 C645.02 178.47 644.90 181.20 646.30 184.30 C647.70 187.40 649.93 190.62 651.40 194.00 C652.87 197.38 653.52 200.40 655.10 204.60 C656.68 208.80 659.58 215.63 660.90 219.20 C662.22 222.77 662.65 224.87 663.00 226.00" fill="none" stroke="#fc8d62" stroke-width="1.6" stroke-dasharray="5.5 1.9"/>
<path d="M398.50 170.50 C401.58 168.05 410.75 160.55 417.00 155.80 C423.25 151.05 430.02 146.08 436.00 142.00 C441.98 137.92 447.23 134.30 452.90 131.30 C458.57 128.30 465.33 125.73 470.00 124.00 C474.67 122.27 477.38 121.97 480.90 120.90 C484.42 119.83 487.70 118.37 491.10 117.60 C494.50 116.83 498.15 116.57 501.30 116.30 C504.45 116.03 505.98 115.95 510.00 116.00 C514.02 116.05 519.42 116.25 525.40 116.60 C531.38 116.95 539.08 117.33 545.90 118.10 C552.72 118.87 561.45 120.50 566.30 121.20 C571.15 121.90 572.07 122.17 575.00 122.30 C577.93 122.43 581.35 122.22 583.90 122.00 C586.45 121.78 587.53 121.67 590.30 121.00 C593.07 120.33 597.43 119.45 600.50 118.00 C603.57 116.55 606.32 114.43 608.70 112.30 C611.08 110.17 612.93 107.92 614.80 105.20 C616.67 102.48 618.07 99.20 619.90 96.00 C621.73 92.80 624.30 89.00 625.80 86.00 C627.30 83.00 627.20 82.00 628.90 78.00 C630.60 74.00 633.33 67.83 636.00 62.00 C638.67 56.17 642.48 49.58 644.90 43.00 C647.32 36.42 649.32 27.67 650.50 22.50 C651.68 17.33 651.75 13.75 652.00 12.00" fill="none" stroke="#8da0cb" stroke-width="1.6"/>
<path d="M398.50 166.00 C401.63 163.63 411.05 156.63 417.30 151.80 C423.55 146.97 430.07 141.43 436.00 137.00 C441.93 132.57 447.13 128.58 452.90 125.20 C458.67 121.82 465.93 118.87 470.60 116.70 C475.27 114.53 477.48 113.55 480.90 112.20 C484.32 110.85 487.70 109.68 491.10 108.60 C494.50 107.52 498.15 106.43 501.30 105.70 C504.45 104.97 506.83 104.68 510.00 104.20 C513.17 103.72 516.03 103.23 520.30 102.80 C524.57 102.37 530.48 102.03 535.60 101.60 C540.72 101.17 546.73 100.70 551.00 100.20 C555.27 99.70 558.03 99.13 561.20 98.60 C564.37 98.07 567.70 97.50 570.00 97.00 C572.30 96.50 573.30 96.20 575.00 95.60 C576.70 95.00 578.13 94.62 580.20 93.40 C582.27 92.18 585.35 90.17 587.40 88.30 C589.45 86.43 591.15 83.98 592.50 82.20 C593.85 80.42 593.20 81.65 595.50 77.60 C597.80 73.55 604.15 62.50 606.30 57.90 C608.45 53.30 607.03 54.60 608.40 50.00 C609.77 45.40 612.98 34.93 614.50 30.30 C616.02 25.67 616.67 25.25 617.50 22.20 C618.33 19.15 619.17 13.70 619.50 12.00" fill="none" stroke="#8da0cb" stroke-width="1.6" stroke-dasharray="5.5 1.9"/>
<path d="M398.50 175.00 C399.62 174.07 403.23 171.02 405.20 169.40 C407.17 167.78 408.60 166.65 410.30 165.30 C412.00 163.95 413.70 162.58 415.40 161.30 C417.10 160.02 418.80 158.77 420.50 157.60 C422.20 156.43 423.70 155.43 425.60 154.30 C427.50 153.17 429.43 152.13 431.90 150.80 C434.37 149.47 437.27 148.07 440.40 146.30 C443.53 144.53 447.55 141.98 450.70 140.20 C453.85 138.42 455.90 137.17 459.30 135.60 C462.70 134.03 468.02 131.82 471.10 130.80 C474.18 129.78 474.65 129.93 477.80 129.50 C480.95 129.07 485.42 128.45 490.00 128.20 C494.58 127.95 500.13 127.70 505.30 128.00 C510.47 128.30 515.22 129.17 521.00 130.00 C526.78 130.83 533.67 131.40 540.00 133.00 C546.33 134.60 552.83 136.77 559.00 139.60 C565.17 142.43 571.67 146.90 577.00 150.00 C582.33 153.10 586.02 154.73 591.00 158.20 C595.98 161.67 601.82 166.70 606.90 170.80 C611.98 174.90 617.12 179.70 621.50 182.80 C625.88 185.90 630.03 188.07 633.20 189.40 C636.37 190.73 637.83 191.05 640.50 190.80 C643.17 190.55 646.28 189.47 649.20 187.90 C652.12 186.33 655.07 183.95 658.00 181.40 C660.93 178.85 664.52 175.17 666.80 172.60 C669.08 170.03 670.88 167.10 671.70 166.00" fill="none" stroke="#8da0cb" stroke-width="1.6" stroke-dasharray="5.5 1.9"/>
</g></g>
<path d="M398.40 22.40 V220.70" stroke="#3a3a3a" stroke-width="1.1" fill="none"/>
<path d="M397.85 220.00 H686.00" stroke="#707070" stroke-width="1.6" fill="none"/>
<path d="M398.30 220.00 H395.30 M398.30 195.30 H395.30 M398.30 170.60 H395.30 M398.30 145.90 H395.30 M398.30 121.20 H395.30 M398.30 96.50 H395.30 M398.30 71.80 H395.30 M398.30 47.10 H395.30 M398.30 22.40 H395.30 M459.30 220.00 V223.00 M520.30 220.00 V223.00 M581.30 220.00 V223.00 M641.70 220.00 V223.00" stroke="#5a5a5a" stroke-width="1.2" fill="none"/>
<text y="223.75" font-size="11.25"><tspan x="367.90" textLength="6.74" lengthAdjust="spacingAndGlyphs">0</tspan><tspan x="374.64" textLength="3.37" lengthAdjust="spacingAndGlyphs">.</tspan><tspan x="378.01" textLength="6.74" lengthAdjust="spacingAndGlyphs">5</tspan><tspan x="384.76" textLength="6.74" lengthAdjust="spacingAndGlyphs">0</tspan></text>
<text y="199.05" font-size="11.25"><tspan x="367.90" textLength="6.74" lengthAdjust="spacingAndGlyphs">0</tspan><tspan x="374.64" textLength="3.37" lengthAdjust="spacingAndGlyphs">.</tspan><tspan x="378.01" textLength="6.74" lengthAdjust="spacingAndGlyphs">7</tspan><tspan x="384.76" textLength="6.74" lengthAdjust="spacingAndGlyphs">5</tspan></text>
<text y="174.35" font-size="11.25"><tspan x="367.90" textLength="6.74" lengthAdjust="spacingAndGlyphs">1</tspan><tspan x="374.64" textLength="3.37" lengthAdjust="spacingAndGlyphs">.</tspan><tspan x="378.01" textLength="6.74" lengthAdjust="spacingAndGlyphs">0</tspan><tspan x="384.76" textLength="6.74" lengthAdjust="spacingAndGlyphs">0</tspan></text>
<text y="149.65" font-size="11.25"><tspan x="367.90" textLength="6.74" lengthAdjust="spacingAndGlyphs">1</tspan><tspan x="374.64" textLength="3.37" lengthAdjust="spacingAndGlyphs">.</tspan><tspan x="378.01" textLength="6.74" lengthAdjust="spacingAndGlyphs">2</tspan><tspan x="384.76" textLength="6.74" lengthAdjust="spacingAndGlyphs">5</tspan></text>
<text y="124.95" font-size="11.25"><tspan x="367.90" textLength="6.74" lengthAdjust="spacingAndGlyphs">1</tspan><tspan x="374.64" textLength="3.37" lengthAdjust="spacingAndGlyphs">.</tspan><tspan x="378.01" textLength="6.74" lengthAdjust="spacingAndGlyphs">5</tspan><tspan x="384.76" textLength="6.74" lengthAdjust="spacingAndGlyphs">0</tspan></text>
<text y="100.25" font-size="11.25"><tspan x="367.90" textLength="6.74" lengthAdjust="spacingAndGlyphs">1</tspan><tspan x="374.64" textLength="3.37" lengthAdjust="spacingAndGlyphs">.</tspan><tspan x="378.01" textLength="6.74" lengthAdjust="spacingAndGlyphs">7</tspan><tspan x="384.76" textLength="6.74" lengthAdjust="spacingAndGlyphs">5</tspan></text>
<text y="75.55" font-size="11.25"><tspan x="367.90" textLength="6.74" lengthAdjust="spacingAndGlyphs">2</tspan><tspan x="374.64" textLength="3.37" lengthAdjust="spacingAndGlyphs">.</tspan><tspan x="378.01" textLength="6.74" lengthAdjust="spacingAndGlyphs">0</tspan><tspan x="384.76" textLength="6.74" lengthAdjust="spacingAndGlyphs">0</tspan></text>
<text y="50.85" font-size="11.25"><tspan x="367.90" textLength="6.74" lengthAdjust="spacingAndGlyphs">2</tspan><tspan x="374.64" textLength="3.37" lengthAdjust="spacingAndGlyphs">.</tspan><tspan x="378.01" textLength="6.74" lengthAdjust="spacingAndGlyphs">2</tspan><tspan x="384.76" textLength="6.74" lengthAdjust="spacingAndGlyphs">5</tspan></text>
<text y="26.15" font-size="11.25"><tspan x="367.90" textLength="6.74" lengthAdjust="spacingAndGlyphs">2</tspan><tspan x="374.64" textLength="3.37" lengthAdjust="spacingAndGlyphs">.</tspan><tspan x="378.01" textLength="6.74" lengthAdjust="spacingAndGlyphs">5</tspan><tspan x="384.76" textLength="6.74" lengthAdjust="spacingAndGlyphs">0</tspan></text>
<text y="234.30" font-size="11.25"><tspan x="450.90" textLength="6.74" lengthAdjust="spacingAndGlyphs">0</tspan><tspan x="457.64" textLength="3.37" lengthAdjust="spacingAndGlyphs">.</tspan><tspan x="461.01" textLength="6.74" lengthAdjust="spacingAndGlyphs">1</tspan></text>
<text y="234.30" font-size="11.25"><tspan x="511.90" textLength="6.74" lengthAdjust="spacingAndGlyphs">0</tspan><tspan x="518.64" textLength="3.37" lengthAdjust="spacingAndGlyphs">.</tspan><tspan x="522.01" textLength="6.74" lengthAdjust="spacingAndGlyphs">2</tspan></text>
<text y="234.30" font-size="11.25"><tspan x="572.90" textLength="6.74" lengthAdjust="spacingAndGlyphs">0</tspan><tspan x="579.64" textLength="3.37" lengthAdjust="spacingAndGlyphs">.</tspan><tspan x="583.01" textLength="6.74" lengthAdjust="spacingAndGlyphs">3</tspan></text>
<text y="234.30" font-size="11.25"><tspan x="633.30" textLength="6.74" lengthAdjust="spacingAndGlyphs">0</tspan><tspan x="640.04" textLength="3.37" lengthAdjust="spacingAndGlyphs">.</tspan><tspan x="643.41" textLength="6.74" lengthAdjust="spacingAndGlyphs">4</tspan></text>
<text y="247.80" font-size="11.25"><tspan x="538.45" textLength="6.30" lengthAdjust="spacingAndGlyphs">x</tspan></text>
<g transform="translate(361.3 121.2) rotate(-90)"><text y="0.00" font-size="11.25"><tspan x="-18.90" textLength="6.27" lengthAdjust="spacingAndGlyphs">x</tspan><tspan x="-12.63" textLength="6.72" lengthAdjust="spacingAndGlyphs">d</tspan><tspan x="-5.91" textLength="3.57" lengthAdjust="spacingAndGlyphs">/</tspan><tspan x="-2.34" textLength="6.71" lengthAdjust="spacingAndGlyphs">u</tspan><tspan x="4.37" textLength="4.13" lengthAdjust="spacingAndGlyphs">(</tspan><tspan x="8.50" textLength="6.27" lengthAdjust="spacingAndGlyphs">x</tspan><tspan x="14.77" textLength="4.13" lengthAdjust="spacingAndGlyphs">)</tspan></text><path d="M-10.3 -10 H-7.5 M-1.0 -7.4 H1.8" stroke="#000" stroke-width="0.9"/></g>
<text y="16.40" font-size="13.50"><tspan x="490.20" textLength="8.21" lengthAdjust="spacingAndGlyphs">d</tspan><tspan x="498.41" textLength="4.36" lengthAdjust="spacingAndGlyphs">/</tspan><tspan x="502.76" textLength="8.20" lengthAdjust="spacingAndGlyphs">u</tspan><tspan x="510.96"> </tspan><tspan x="515.07" textLength="7.92" lengthAdjust="spacingAndGlyphs">a</tspan><tspan x="523.00" textLength="5.07" lengthAdjust="spacingAndGlyphs">t</tspan><tspan x="528.07"> </tspan><tspan x="532.18" textLength="8.23" lengthAdjust="spacingAndGlyphs">1</tspan><tspan x="540.40" textLength="8.23" lengthAdjust="spacingAndGlyphs">0</tspan><tspan x="548.63" textLength="4.11" lengthAdjust="spacingAndGlyphs">.</tspan><tspan x="552.74" textLength="8.23" lengthAdjust="spacingAndGlyphs">0</tspan><tspan x="560.97"> </tspan><tspan x="565.08" textLength="10.02" lengthAdjust="spacingAndGlyphs">G</tspan><tspan x="575.10" textLength="7.96" lengthAdjust="spacingAndGlyphs">e</tspan><tspan x="583.05" textLength="8.85" lengthAdjust="spacingAndGlyphs">V</tspan></text>
<path d="M494.1 4.3 H497.3 M506.3 6.9 H509.7" stroke="#000" stroke-width="0.9"/>
<rect x="403.2" y="27.8" width="240.5" height="49.3" rx="2.2" fill="#fff" fill-opacity="0.8" stroke="#ccc" stroke-width="0.9"/>
<rect x="408.3" y="33.25" width="20.3" height="6.1" fill="#66c2a5" fill-opacity="0.55"/>
<rect x="407.5" y="32.45" width="21.9" height="7.7" fill="none" stroke="#66c2a5" stroke-width="1.4" stroke-opacity="0.85" stroke-dasharray="2.7 1.3"/>
<text y="39.80" font-size="11.25"><tspan x="438.20" textLength="7.97" lengthAdjust="spacingAndGlyphs">N</tspan><tspan x="446.17" textLength="7.97" lengthAdjust="spacingAndGlyphs">N</tspan><tspan x="454.14" textLength="6.42" lengthAdjust="spacingAndGlyphs">P</tspan><tspan x="460.56" textLength="8.20" lengthAdjust="spacingAndGlyphs">D</tspan><tspan x="468.76" textLength="6.13" lengthAdjust="spacingAndGlyphs">F</tspan><tspan x="474.89" textLength="6.78" lengthAdjust="spacingAndGlyphs">3</tspan><tspan x="481.66" textLength="3.39" lengthAdjust="spacingAndGlyphs">.</tspan><tspan x="485.05" textLength="6.78" lengthAdjust="spacingAndGlyphs">1</tspan><tspan x="491.83"> </tspan><tspan x="495.21" textLength="4.16" lengthAdjust="spacingAndGlyphs">(</tspan><tspan x="499.37" textLength="6.78" lengthAdjust="spacingAndGlyphs">6</tspan><tspan x="506.14" textLength="6.78" lengthAdjust="spacingAndGlyphs">8</tspan><tspan x="512.92"> </tspan><tspan x="516.31" textLength="5.86" lengthAdjust="spacingAndGlyphs">c</tspan><tspan x="522.16" textLength="3.39" lengthAdjust="spacingAndGlyphs">.</tspan><tspan x="525.55" textLength="2.96" lengthAdjust="spacingAndGlyphs">l</tspan><tspan x="528.51" textLength="3.39" lengthAdjust="spacingAndGlyphs">.</tspan><tspan x="531.89" textLength="8.92" lengthAdjust="spacingAndGlyphs">+</tspan><tspan x="540.82" textLength="6.78" lengthAdjust="spacingAndGlyphs">1</tspan><tspan x="547.59" textLength="6.75" lengthAdjust="spacingAndGlyphs">σ</tspan><tspan x="554.34" textLength="4.16" lengthAdjust="spacingAndGlyphs">)</tspan></text>
<rect x="408.3" y="48.90" width="20.3" height="6.1" fill="#fc8d62" fill-opacity="0.55"/>
<rect x="407.5" y="48.10" width="21.9" height="7.7" fill="none" stroke="#fc8d62" stroke-width="1.4" stroke-opacity="0.85" stroke-dasharray="2.7 1.3"/>
<text y="55.45" font-size="11.25"><tspan x="438.20" textLength="7.97" lengthAdjust="spacingAndGlyphs">N</tspan><tspan x="446.17" textLength="7.97" lengthAdjust="spacingAndGlyphs">N</tspan><tspan x="454.14" textLength="6.42" lengthAdjust="spacingAndGlyphs">P</tspan><tspan x="460.56" textLength="8.20" lengthAdjust="spacingAndGlyphs">D</tspan><tspan x="468.76" textLength="6.13" lengthAdjust="spacingAndGlyphs">F</tspan><tspan x="474.89" textLength="6.78" lengthAdjust="spacingAndGlyphs">4</tspan><tspan x="481.66" textLength="3.39" lengthAdjust="spacingAndGlyphs">.</tspan><tspan x="485.05" textLength="6.78" lengthAdjust="spacingAndGlyphs">0</tspan><tspan x="491.83"> </tspan><tspan x="495.21" textLength="4.16" lengthAdjust="spacingAndGlyphs">(</tspan><tspan x="499.37" textLength="6.78" lengthAdjust="spacingAndGlyphs">6</tspan><tspan x="506.14" textLength="6.78" lengthAdjust="spacingAndGlyphs">8</tspan><tspan x="512.92"> </tspan><tspan x="516.31" textLength="5.86" lengthAdjust="spacingAndGlyphs">c</tspan><tspan x="522.16" textLength="3.39" lengthAdjust="spacingAndGlyphs">.</tspan><tspan x="525.55" textLength="2.96" lengthAdjust="spacingAndGlyphs">l</tspan><tspan x="528.51" textLength="3.39" lengthAdjust="spacingAndGlyphs">.</tspan><tspan x="531.89" textLength="8.92" lengthAdjust="spacingAndGlyphs">+</tspan><tspan x="540.82" textLength="6.78" lengthAdjust="spacingAndGlyphs">1</tspan><tspan x="547.59" textLength="6.75" lengthAdjust="spacingAndGlyphs">σ</tspan><tspan x="554.34" textLength="4.16" lengthAdjust="spacingAndGlyphs">)</tspan></text>
<rect x="408.3" y="64.55" width="20.3" height="6.1" fill="#8da0cb" fill-opacity="0.55"/>
<rect x="407.5" y="63.75" width="21.9" height="7.7" fill="none" stroke="#8da0cb" stroke-width="1.4" stroke-opacity="0.85" stroke-dasharray="2.7 1.3"/>
<text y="71.10" font-size="11.25"><tspan x="438.20" textLength="7.97" lengthAdjust="spacingAndGlyphs">N</tspan><tspan x="446.17" textLength="7.97" lengthAdjust="spacingAndGlyphs">N</tspan><tspan x="454.13" textLength="6.42" lengthAdjust="spacingAndGlyphs">P</tspan><tspan x="460.56" textLength="8.20" lengthAdjust="spacingAndGlyphs">D</tspan><tspan x="468.76" textLength="6.13" lengthAdjust="spacingAndGlyphs">F</tspan><tspan x="474.89" textLength="6.78" lengthAdjust="spacingAndGlyphs">4</tspan><tspan x="481.66" textLength="3.39" lengthAdjust="spacingAndGlyphs">.</tspan><tspan x="485.05" textLength="6.78" lengthAdjust="spacingAndGlyphs">0</tspan><tspan x="491.82"> </tspan><tspan x="495.21" textLength="4.16" lengthAdjust="spacingAndGlyphs">(</tspan><tspan x="499.37" textLength="6.75" lengthAdjust="spacingAndGlyphs">n</tspan><tspan x="506.12" textLength="6.52" lengthAdjust="spacingAndGlyphs">o</tspan><tspan x="512.63"> </tspan><tspan x="516.02" textLength="6.76" lengthAdjust="spacingAndGlyphs">S</tspan><tspan x="522.78" textLength="6.55" lengthAdjust="spacingAndGlyphs">e</tspan><tspan x="529.33" textLength="6.53" lengthAdjust="spacingAndGlyphs">a</tspan><tspan x="535.86" textLength="8.38" lengthAdjust="spacingAndGlyphs">Q</tspan><tspan x="544.24" textLength="6.75" lengthAdjust="spacingAndGlyphs">u</tspan><tspan x="550.99" textLength="6.55" lengthAdjust="spacingAndGlyphs">e</tspan><tspan x="557.55" textLength="5.55" lengthAdjust="spacingAndGlyphs">s</tspan><tspan x="563.10" textLength="4.18" lengthAdjust="spacingAndGlyphs">t</tspan><tspan x="567.27" textLength="4.16" lengthAdjust="spacingAndGlyphs">)</tspan><tspan x="571.43"> </tspan><tspan x="574.81" textLength="4.16" lengthAdjust="spacingAndGlyphs">(</tspan><tspan x="578.97" textLength="6.78" lengthAdjust="spacingAndGlyphs">6</tspan><tspan x="585.74" textLength="6.78" lengthAdjust="spacingAndGlyphs">8</tspan><tspan x="592.52"> </tspan><tspan x="595.91" textLength="5.86" lengthAdjust="spacingAndGlyphs">c</tspan><tspan x="601.76" textLength="3.39" lengthAdjust="spacingAndGlyphs">.</tspan><tspan x="605.15" textLength="2.96" lengthAdjust="spacingAndGlyphs">l</tspan><tspan x="608.11" textLength="3.39" lengthAdjust="spacingAndGlyphs">.</tspan><tspan x="611.49" textLength="8.92" lengthAdjust="spacingAndGlyphs">+</tspan><tspan x="620.42" textLength="6.78" lengthAdjust="spacingAndGlyphs">1</tspan><tspan x="627.19" textLength="6.75" lengthAdjust="spacingAndGlyphs">σ</tspan><tspan x="633.94" textLength="4.16" lengthAdjust="spacingAndGlyphs">)</tspan></text>
<path d="M413.6 39.3 L420.1 32.9" stroke="#555" stroke-width="1"/>
<path d="M417.2 48.5 L424.3 55.4" stroke="#555" stroke-width="1"/>
<path d="M410.2 69.3 H427.1" stroke="#555" stroke-width="1"/>
</svg>
</body></html>
